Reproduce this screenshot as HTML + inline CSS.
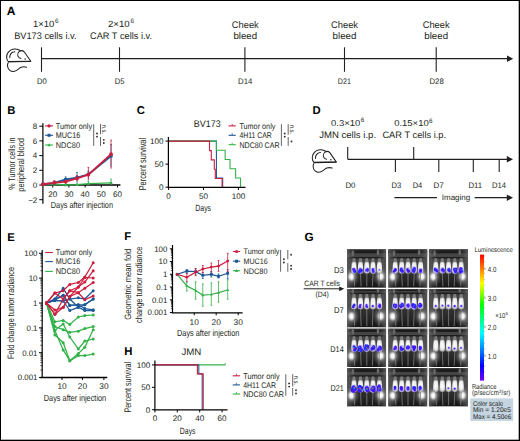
<!DOCTYPE html><html><head><meta charset="utf-8"><style>html,body{margin:0;padding:0;background:#fff;}svg{display:block;font-family:"Liberation Sans",sans-serif;}</style></head><body><svg width="520" height="441" viewBox="0 0 520 441" font-family="Liberation Sans, sans-serif" text-rendering="geometricPrecision" fill="#231f20">
<rect x="0" y="0" width="520" height="441" fill="#fff"/>
<defs>
<radialGradient id="glow" cx="0.5" cy="0.5" r="0.5">
 <stop offset="0" stop-color="#ffffff" stop-opacity="1"/>
 <stop offset="0.2" stop-color="#eeeeee" stop-opacity="0.95"/>
 <stop offset="0.45" stop-color="#9a9a9a" stop-opacity="0.55"/>
 <stop offset="1" stop-color="#505050" stop-opacity="0"/>
</radialGradient>
<radialGradient id="vig" cx="0.5" cy="0.4" r="0.7">
 <stop offset="0" stop-color="#3a3a3a"/>
 <stop offset="0.6" stop-color="#242424"/>
 <stop offset="1" stop-color="#0e0e0e"/>
</radialGradient>
<linearGradient id="topband" x1="0" y1="0" x2="0" y2="1">
 <stop offset="0" stop-color="#1a1a1a"/>
 <stop offset="0.3" stop-color="#464646"/>
 <stop offset="0.75" stop-color="#3a3a3a"/>
 <stop offset="1" stop-color="#2a2a2a" stop-opacity="0"/>
</linearGradient>
<linearGradient id="sidecol" x1="0" y1="0" x2="0" y2="1">
 <stop offset="0" stop-color="#8a8a8a" stop-opacity="0.9"/>
 <stop offset="0.5" stop-color="#5a5a5a" stop-opacity="0.6"/>
 <stop offset="1" stop-color="#404040" stop-opacity="0.2"/>
</linearGradient>
<radialGradient id="mbody" cx="0.5" cy="0.45" r="0.55">
 <stop offset="0" stop-color="#ffffff"/>
 <stop offset="0.65" stop-color="#ebebeb"/>
 <stop offset="1" stop-color="#acacac"/>
</radialGradient>
<linearGradient id="edges" x1="0" y1="0" x2="1" y2="0">
 <stop offset="0" stop-color="#707070" stop-opacity="0.75"/>
 <stop offset="0.16" stop-color="#505050" stop-opacity="0.25"/>
 <stop offset="0.3" stop-color="#404040" stop-opacity="0"/>
 <stop offset="0.7" stop-color="#404040" stop-opacity="0"/>
 <stop offset="0.84" stop-color="#505050" stop-opacity="0.25"/>
 <stop offset="1" stop-color="#707070" stop-opacity="0.75"/>
</linearGradient>
<clipPath id="tclip"><rect x="0" y="0" width="39.2" height="38.6"/></clipPath>
<filter id="bl" x="-0.3" y="-0.3" width="1.6" height="1.6"><feGaussianBlur stdDeviation="0.45"/></filter>
<filter id="bl6" x="-0.3" y="-0.3" width="1.6" height="1.6"><feGaussianBlur stdDeviation="0.6"/></filter>
<filter id="blg" x="-1" y="-1" width="3" height="3"><feGaussianBlur stdDeviation="1.3"/></filter>
<filter id="bl3" x="-0.3" y="-0.3" width="1.6" height="1.6"><feGaussianBlur stdDeviation="0.3"/></filter>
</defs>
<text x="6.70" y="14.90" font-size="12" font-weight="bold" fill="#000">A</text>
<text x="33.00" y="26.80" font-size="9" textLength="21.40" lengthAdjust="spacingAndGlyphs">1×10</text>
<text x="55.00" y="22.80" font-size="6.4">6</text>
<text x="14.20" y="38.50" font-size="9.5" textLength="62.30" lengthAdjust="spacingAndGlyphs">BV173 cells i.v.</text>
<text x="107.90" y="26.80" font-size="9" textLength="21.80" lengthAdjust="spacingAndGlyphs">2×10</text>
<text x="130.60" y="22.80" font-size="6.4">6</text>
<text x="90.00" y="38.50" font-size="9.5" textLength="62.00" lengthAdjust="spacingAndGlyphs">CAR T cells i.v.</text>
<text x="245.30" y="27.80" font-size="9.5" text-anchor="middle" textLength="27.00" lengthAdjust="spacingAndGlyphs">Cheek</text>
<text x="245.30" y="38.80" font-size="9.5" text-anchor="middle" textLength="23.80" lengthAdjust="spacingAndGlyphs">bleed</text>
<text x="344.50" y="27.80" font-size="9.5" text-anchor="middle" textLength="27.00" lengthAdjust="spacingAndGlyphs">Cheek</text>
<text x="344.50" y="38.80" font-size="9.5" text-anchor="middle" textLength="23.80" lengthAdjust="spacingAndGlyphs">bleed</text>
<text x="436.20" y="27.80" font-size="9.5" text-anchor="middle" textLength="27.00" lengthAdjust="spacingAndGlyphs">Cheek</text>
<text x="436.20" y="38.80" font-size="9.5" text-anchor="middle" textLength="23.80" lengthAdjust="spacingAndGlyphs">bleed</text>
<line x1="41.50" y1="58.70" x2="508.00" y2="58.70" stroke="#231f20" stroke-width="1.2"/>
<path d="M507.00,55.50 L513.20,58.70 L507.00,61.90 Z" fill="#231f20"/>
<line x1="41.50" y1="47.30" x2="41.50" y2="71.80" stroke="#231f20" stroke-width="1.1"/>
<line x1="119.50" y1="47.30" x2="119.50" y2="71.80" stroke="#231f20" stroke-width="1.1"/>
<line x1="244.90" y1="47.30" x2="244.90" y2="71.80" stroke="#231f20" stroke-width="1.1"/>
<line x1="344.50" y1="47.30" x2="344.50" y2="71.80" stroke="#231f20" stroke-width="1.1"/>
<line x1="436.20" y1="47.30" x2="436.20" y2="71.80" stroke="#231f20" stroke-width="1.1"/>
<text x="41.85" y="84.40" font-size="8.1" text-anchor="middle" textLength="9.70" lengthAdjust="spacingAndGlyphs">D0</text>
<text x="119.55" y="84.40" font-size="8.1" text-anchor="middle" textLength="9.70" lengthAdjust="spacingAndGlyphs">D5</text>
<text x="245.25" y="84.40" font-size="8.1" text-anchor="middle" textLength="14.30" lengthAdjust="spacingAndGlyphs">D14</text>
<text x="344.35" y="84.40" font-size="8.1" text-anchor="middle" textLength="13.10" lengthAdjust="spacingAndGlyphs">D21</text>
<text x="436.60" y="84.40" font-size="8.1" text-anchor="middle" textLength="14.20" lengthAdjust="spacingAndGlyphs">D28</text>
<g transform="translate(0,0)"><path d="M8.4,61.7 C6.3,59.5 6.0,55.5 8.0,52.6 C9.8,50.1 12.6,48.9 15.4,49.0 C17.3,49.1 18.8,49.6 20.1,50.5 M24.2,51.8 C23.0,50.6 21.0,50.4 19.6,51.3 C17.8,52.5 17.2,55.0 18.3,56.8 C19.0,57.9 20.0,58.3 21.0,58.4 M24.2,51.8 L30.8,61.3 L8.4,61.7 M9.8,57.6 C9.8,55.4 11.0,53.0 13.0,52.1 C13.6,51.8 14.3,51.7 14.9,51.7 M8.1,62.8 C7.0,65.0 7.4,68.5 9.8,70.3 C11.5,71.6 14.2,71.6 16.2,70.6 C18.3,69.5 19.5,67.8 21.2,67.2 C23.0,66.6 25.0,66.8 26.6,67.2" fill="none" stroke="#231f20" stroke-width="1.05" stroke-linecap="round" stroke-linejoin="round"/><path d="M8.4,61.7 L30.8,61.3" stroke="#231f20" stroke-width="1.3"/><circle cx="25.2" cy="58.9" r="0.75" fill="#231f20"/></g>
<text x="312.40" y="114.00" font-size="11.3" font-weight="bold" fill="#000">D</text>
<text x="331.10" y="125.60" font-size="8.6" textLength="29.10" lengthAdjust="spacingAndGlyphs">0.3×10</text>
<text x="360.70" y="122.40" font-size="6.3">6</text>
<text x="319.20" y="138.00" font-size="9.3" textLength="56.90" lengthAdjust="spacingAndGlyphs">JMN cells i.p.</text>
<text x="394.20" y="125.80" font-size="8.6" textLength="34.50" lengthAdjust="spacingAndGlyphs">0.15×10</text>
<text x="429.10" y="122.60" font-size="6.3">6</text>
<text x="382.40" y="137.80" font-size="9.3" textLength="63.70" lengthAdjust="spacingAndGlyphs">CAR T cells i.p.</text>
<g transform="translate(305.6,100.8)"><path d="M8.4,61.7 C6.3,59.5 6.0,55.5 8.0,52.6 C9.8,50.1 12.6,48.9 15.4,49.0 C17.3,49.1 18.8,49.6 20.1,50.5 M24.2,51.8 C23.0,50.6 21.0,50.4 19.6,51.3 C17.8,52.5 17.2,55.0 18.3,56.8 C19.0,57.9 20.0,58.3 21.0,58.4 M24.2,51.8 L30.8,61.3 L8.4,61.7 M9.8,57.6 C9.8,55.4 11.0,53.0 13.0,52.1 C13.6,51.8 14.3,51.7 14.9,51.7 M8.1,62.8 C7.0,65.0 7.4,68.5 9.8,70.3 C11.5,71.6 14.2,71.6 16.2,70.6 C18.3,69.5 19.5,67.8 21.2,67.2 C23.0,66.6 25.0,66.8 26.6,67.2" fill="none" stroke="#231f20" stroke-width="1.05" stroke-linecap="round" stroke-linejoin="round"/><path d="M8.4,61.7 L30.8,61.3" stroke="#231f20" stroke-width="1.3"/><circle cx="25.2" cy="58.9" r="0.75" fill="#231f20"/></g>
<line x1="347.70" y1="159.30" x2="508.00" y2="159.30" stroke="#231f20" stroke-width="1.2"/>
<path d="M506.80,156.10 L513.00,159.30 L506.80,162.50 Z" fill="#231f20"/>
<line x1="347.70" y1="147.00" x2="347.70" y2="159.30" stroke="#231f20" stroke-width="1.1"/>
<line x1="413.70" y1="147.00" x2="413.70" y2="159.30" stroke="#231f20" stroke-width="1.1"/>
<line x1="395.40" y1="159.30" x2="395.40" y2="172.00" stroke="#231f20" stroke-width="1.1"/>
<line x1="438.80" y1="159.30" x2="438.80" y2="172.00" stroke="#231f20" stroke-width="1.1"/>
<line x1="473.30" y1="159.30" x2="473.30" y2="172.00" stroke="#231f20" stroke-width="1.1"/>
<line x1="499.20" y1="159.30" x2="499.20" y2="172.00" stroke="#231f20" stroke-width="1.1"/>
<text x="350.40" y="188.00" font-size="8.0" text-anchor="middle" textLength="10.00" lengthAdjust="spacingAndGlyphs">D0</text>
<text x="396.35" y="188.00" font-size="8.0" text-anchor="middle" textLength="9.70" lengthAdjust="spacingAndGlyphs">D3</text>
<text x="417.50" y="188.00" font-size="8.0" text-anchor="middle" textLength="9.60" lengthAdjust="spacingAndGlyphs">D4</text>
<text x="438.65" y="188.00" font-size="8.0" text-anchor="middle" textLength="10.30" lengthAdjust="spacingAndGlyphs">D7</text>
<text x="475.30" y="188.00" font-size="8.0" text-anchor="middle" textLength="13.80" lengthAdjust="spacingAndGlyphs">D11</text>
<text x="499.05" y="188.00" font-size="8.0" text-anchor="middle" textLength="14.10" lengthAdjust="spacingAndGlyphs">D14</text>
<line x1="394.40" y1="197.70" x2="436.90" y2="197.70" stroke="#231f20" stroke-width="1.3"/>
<text x="441.80" y="200.20" font-size="8" textLength="28.30" lengthAdjust="spacingAndGlyphs">Imaging</text>
<line x1="474.60" y1="197.70" x2="508.00" y2="197.70" stroke="#231f20" stroke-width="1.3"/>
<path d="M506.80,194.50 L513.00,197.70 L506.80,200.90 Z" fill="#231f20"/>
<text x="7.30" y="114.00" font-size="11.3" font-weight="bold" fill="#000">B</text>
<text x="14.60" y="163.60" font-size="9.3" text-anchor="middle" textLength="52.30" lengthAdjust="spacingAndGlyphs" transform="rotate(-90 14.60 163.60)">% Tumor cells in</text>
<text x="24.50" y="164.90" font-size="9.3" text-anchor="middle" textLength="53.80" lengthAdjust="spacingAndGlyphs" transform="rotate(-90 24.50 164.90)">peripheral blood</text>
<line x1="42.90" y1="123.20" x2="42.90" y2="203.80" stroke="#000" stroke-width="1.2"/>
<line x1="42.30" y1="185.00" x2="120.40" y2="185.00" stroke="#000" stroke-width="1.3"/>
<line x1="39.30" y1="126.20" x2="42.90" y2="126.20" stroke="#000" stroke-width="1"/>
<text x="37.30" y="129.00" font-size="8.0" text-anchor="end">8</text>
<line x1="39.30" y1="140.90" x2="42.90" y2="140.90" stroke="#000" stroke-width="1"/>
<text x="37.30" y="143.70" font-size="8.0" text-anchor="end">6</text>
<line x1="39.30" y1="155.60" x2="42.90" y2="155.60" stroke="#000" stroke-width="1"/>
<text x="37.30" y="158.40" font-size="8.0" text-anchor="end">4</text>
<line x1="39.30" y1="170.30" x2="42.90" y2="170.30" stroke="#000" stroke-width="1"/>
<text x="37.30" y="173.10" font-size="8.0" text-anchor="end">2</text>
<line x1="39.30" y1="185.00" x2="42.90" y2="185.00" stroke="#000" stroke-width="1"/>
<text x="37.30" y="187.80" font-size="8.0" text-anchor="end">0</text>
<line x1="39.30" y1="199.70" x2="42.90" y2="199.70" stroke="#000" stroke-width="1"/>
<text x="37.30" y="202.50" font-size="8.0" text-anchor="end">−2</text>
<line x1="52.72" y1="185.00" x2="52.72" y2="187.50" stroke="#000" stroke-width="1"/>
<text x="52.72" y="197.30" font-size="8.1" text-anchor="middle">20</text>
<line x1="68.92" y1="185.00" x2="68.92" y2="187.50" stroke="#000" stroke-width="1"/>
<text x="68.92" y="197.30" font-size="8.1" text-anchor="middle">30</text>
<line x1="85.12" y1="185.00" x2="85.12" y2="187.50" stroke="#000" stroke-width="1"/>
<text x="85.12" y="197.30" font-size="8.1" text-anchor="middle">40</text>
<line x1="101.32" y1="185.00" x2="101.32" y2="187.50" stroke="#000" stroke-width="1"/>
<text x="101.32" y="197.30" font-size="8.1" text-anchor="middle">50</text>
<line x1="117.52" y1="185.00" x2="117.52" y2="187.50" stroke="#000" stroke-width="1"/>
<text x="117.52" y="197.30" font-size="8.1" text-anchor="middle">60</text>
<text x="81.90" y="208.00" font-size="8.9" text-anchor="middle" textLength="62.20" lengthAdjust="spacingAndGlyphs">Days after injection</text>
<line x1="43.00" y1="184.26" x2="43.00" y2="185.00" stroke="#33b24a" stroke-width="0.8"/>
<line x1="42.10" y1="184.26" x2="43.90" y2="184.26" stroke="#33b24a" stroke-width="0.8"/>
<line x1="54.34" y1="182.79" x2="54.34" y2="185.00" stroke="#33b24a" stroke-width="0.8"/>
<line x1="53.44" y1="182.79" x2="55.24" y2="182.79" stroke="#33b24a" stroke-width="0.8"/>
<line x1="65.68" y1="184.26" x2="65.68" y2="185.00" stroke="#33b24a" stroke-width="0.8"/>
<line x1="64.78" y1="184.26" x2="66.58" y2="184.26" stroke="#33b24a" stroke-width="0.8"/>
<line x1="77.02" y1="183.90" x2="77.02" y2="185.00" stroke="#33b24a" stroke-width="0.8"/>
<line x1="76.12" y1="183.90" x2="77.92" y2="183.90" stroke="#33b24a" stroke-width="0.8"/>
<line x1="88.36" y1="181.32" x2="88.36" y2="185.00" stroke="#33b24a" stroke-width="0.8"/>
<line x1="87.46" y1="181.32" x2="89.26" y2="181.32" stroke="#33b24a" stroke-width="0.8"/>
<line x1="111.04" y1="179.12" x2="111.04" y2="185.00" stroke="#33b24a" stroke-width="0.8"/>
<line x1="110.14" y1="179.12" x2="111.94" y2="179.12" stroke="#33b24a" stroke-width="0.8"/>
<line x1="43.00" y1="183.53" x2="43.00" y2="185.00" stroke="#1f5896" stroke-width="0.8"/>
<line x1="42.10" y1="183.53" x2="43.90" y2="183.53" stroke="#1f5896" stroke-width="0.8"/>
<line x1="54.34" y1="181.32" x2="54.34" y2="184.26" stroke="#1f5896" stroke-width="0.8"/>
<line x1="53.44" y1="181.32" x2="55.24" y2="181.32" stroke="#1f5896" stroke-width="0.8"/>
<line x1="65.68" y1="176.91" x2="65.68" y2="182.06" stroke="#1f5896" stroke-width="0.8"/>
<line x1="64.78" y1="176.91" x2="66.58" y2="176.91" stroke="#1f5896" stroke-width="0.8"/>
<line x1="77.02" y1="172.50" x2="77.02" y2="182.79" stroke="#1f5896" stroke-width="0.8"/>
<line x1="76.12" y1="172.50" x2="77.92" y2="172.50" stroke="#1f5896" stroke-width="0.8"/>
<line x1="88.36" y1="171.03" x2="88.36" y2="179.12" stroke="#1f5896" stroke-width="0.8"/>
<line x1="87.46" y1="171.03" x2="89.26" y2="171.03" stroke="#1f5896" stroke-width="0.8"/>
<line x1="111.04" y1="144.57" x2="111.04" y2="167.36" stroke="#1f5896" stroke-width="0.8"/>
<line x1="110.14" y1="144.57" x2="111.94" y2="144.57" stroke="#1f5896" stroke-width="0.8"/>
<line x1="43.00" y1="183.53" x2="43.00" y2="185.00" stroke="#cc1f3f" stroke-width="0.8"/>
<line x1="42.10" y1="183.53" x2="43.90" y2="183.53" stroke="#cc1f3f" stroke-width="0.8"/>
<line x1="54.34" y1="180.59" x2="54.34" y2="184.26" stroke="#cc1f3f" stroke-width="0.8"/>
<line x1="53.44" y1="180.59" x2="55.24" y2="180.59" stroke="#cc1f3f" stroke-width="0.8"/>
<line x1="65.68" y1="179.85" x2="65.68" y2="184.26" stroke="#cc1f3f" stroke-width="0.8"/>
<line x1="64.78" y1="179.85" x2="66.58" y2="179.85" stroke="#cc1f3f" stroke-width="0.8"/>
<line x1="77.02" y1="175.44" x2="77.02" y2="181.32" stroke="#cc1f3f" stroke-width="0.8"/>
<line x1="76.12" y1="175.44" x2="77.92" y2="175.44" stroke="#cc1f3f" stroke-width="0.8"/>
<line x1="88.36" y1="167.36" x2="88.36" y2="180.59" stroke="#cc1f3f" stroke-width="0.8"/>
<line x1="87.46" y1="167.36" x2="89.26" y2="167.36" stroke="#cc1f3f" stroke-width="0.8"/>
<line x1="111.04" y1="140.17" x2="111.04" y2="168.83" stroke="#cc1f3f" stroke-width="0.8"/>
<line x1="110.14" y1="140.17" x2="111.94" y2="140.17" stroke="#cc1f3f" stroke-width="0.8"/>
<polyline points="43.00,184.63 54.34,184.26 65.68,185.00 77.02,184.63 88.36,183.53 111.04,182.79" fill="none" stroke="#33b24a" stroke-width="1.3"/>
<path d="M41.24,185.91 L43.00,182.87 L44.76,185.91 Z" fill="#33b24a"/>
<path d="M52.58,185.54 L54.34,182.50 L56.10,185.54 Z" fill="#33b24a"/>
<path d="M63.92,186.28 L65.68,183.24 L67.44,186.28 Z" fill="#33b24a"/>
<path d="M75.26,185.91 L77.02,182.87 L78.78,185.91 Z" fill="#33b24a"/>
<path d="M86.60,184.81 L88.36,181.77 L90.12,184.81 Z" fill="#33b24a"/>
<path d="M109.28,184.07 L111.04,181.03 L112.80,184.07 Z" fill="#33b24a"/>
<polyline points="43.00,184.26 54.34,182.79 65.68,179.49 77.02,177.65 88.36,174.34 111.04,155.97" fill="none" stroke="#1f5896" stroke-width="1.8"/>
<rect x="41.40" y="182.66" width="3.20" height="3.20" fill="#1f5896"/>
<rect x="52.74" y="181.19" width="3.20" height="3.20" fill="#1f5896"/>
<rect x="64.08" y="177.89" width="3.20" height="3.20" fill="#1f5896"/>
<rect x="75.42" y="176.05" width="3.20" height="3.20" fill="#1f5896"/>
<rect x="86.76" y="172.74" width="3.20" height="3.20" fill="#1f5896"/>
<rect x="109.44" y="154.37" width="3.20" height="3.20" fill="#1f5896"/>
<polyline points="43.00,184.26 54.34,182.79 65.68,181.69 77.02,178.38 88.36,174.71 111.04,154.13" fill="none" stroke="#cc1f3f" stroke-width="1.8"/>
<circle cx="43.00" cy="184.26" r="1.9" fill="#cc1f3f"/>
<circle cx="54.34" cy="182.79" r="1.9" fill="#cc1f3f"/>
<circle cx="65.68" cy="181.69" r="1.9" fill="#cc1f3f"/>
<circle cx="77.02" cy="178.38" r="1.9" fill="#cc1f3f"/>
<circle cx="88.36" cy="174.71" r="1.9" fill="#cc1f3f"/>
<circle cx="111.04" cy="154.13" r="1.9" fill="#cc1f3f"/>
<line x1="45.10" y1="125.90" x2="53.00" y2="125.90" stroke="#cc1f3f" stroke-width="1.1"/>
<circle cx="49.05" cy="125.90" r="1.6" fill="#cc1f3f"/>
<text x="55.80" y="128.70" font-size="8.2" textLength="36.30" lengthAdjust="spacingAndGlyphs">Tumor only</text>
<line x1="45.10" y1="135.30" x2="53.00" y2="135.30" stroke="#1f5896" stroke-width="1.1"/>
<rect x="47.55" y="133.80" width="3.00" height="3.00" fill="#1f5896"/>
<text x="55.80" y="138.10" font-size="8.2" textLength="24.40" lengthAdjust="spacingAndGlyphs">MUC16</text>
<line x1="45.10" y1="145.00" x2="53.00" y2="145.00" stroke="#33b24a" stroke-width="1.1"/>
<path d="M47.35,146.20 L49.05,143.20 L50.75,146.20 Z" fill="#33b24a"/>
<text x="55.80" y="147.80" font-size="8.2" textLength="24.20" lengthAdjust="spacingAndGlyphs">NDC80</text>
<line x1="93.70" y1="124.20" x2="93.70" y2="145.90" stroke="#555" stroke-width="0.9"/>
<circle cx="97.00" cy="133.45" r="0.95" fill="#333"/>
<circle cx="97.00" cy="136.65" r="0.95" fill="#333"/>
<line x1="100.50" y1="124.20" x2="100.50" y2="134.30" stroke="#555" stroke-width="0.9"/>
<line x1="100.50" y1="137.00" x2="100.50" y2="145.90" stroke="#555" stroke-width="0.9"/>
<text x="102.10" y="129.25" font-size="6.5" text-anchor="middle" textLength="9.60" lengthAdjust="spacingAndGlyphs" transform="rotate(90 102.10 129.25)">n.s.</text>
<circle cx="103.80" cy="139.85" r="0.95" fill="#333"/>
<circle cx="103.80" cy="143.05" r="0.95" fill="#333"/>
<text x="136.80" y="114.00" font-size="11.3" font-weight="bold" fill="#000">C</text>
<text x="207.20" y="126.50" font-size="9.6" text-anchor="middle" textLength="26.80" lengthAdjust="spacingAndGlyphs">BV173</text>
<text x="145.60" y="164.10" font-size="10.0" text-anchor="middle" textLength="52.40" lengthAdjust="spacingAndGlyphs" transform="rotate(-90 145.60 164.10)">Percent survival</text>
<polyline points="168.60,141.10 216.41,141.10 216.41,141.10 216.41,141.10 216.41,177.98 222.69,177.98 222.69,187.20" fill="none" stroke="#1f5896" stroke-width="1.1"/>
<polyline points="168.60,141.10 216.41,141.10 216.41,141.10 216.41,141.10 216.41,150.32 225.14,150.32 225.14,159.54 230.02,159.54 230.02,168.76 235.61,168.76 235.61,177.98 240.49,177.98 240.49,187.20" fill="none" stroke="#33b24a" stroke-width="1.1"/>
<polyline points="168.6,141.1 209.5,141.1 209.5,150.6 211.3,150.6 211.3,159.9 214.3,159.9 214.3,169.2 215.3,169.2 215.3,178.5 222.1,178.5 222.1,187.2" fill="none" stroke="#cc1f3f" stroke-width="1.1"/>
<line x1="168.40" y1="137.00" x2="168.40" y2="188.00" stroke="#000" stroke-width="1.2"/>
<line x1="167.80" y1="187.40" x2="245.50" y2="187.40" stroke="#000" stroke-width="1.3"/>
<line x1="165.50" y1="141.10" x2="168.40" y2="141.10" stroke="#000" stroke-width="1"/>
<text x="163.60" y="143.90" font-size="8.1" text-anchor="end">100</text>
<line x1="165.50" y1="164.15" x2="168.40" y2="164.15" stroke="#000" stroke-width="1"/>
<text x="163.60" y="166.95" font-size="8.1" text-anchor="end">50</text>
<line x1="165.50" y1="187.20" x2="168.40" y2="187.20" stroke="#000" stroke-width="1"/>
<text x="163.60" y="190.00" font-size="8.1" text-anchor="end">0</text>
<line x1="168.60" y1="187.40" x2="168.60" y2="190.00" stroke="#000" stroke-width="1"/>
<text x="168.60" y="199.20" font-size="8.1" text-anchor="middle">0</text>
<line x1="203.50" y1="187.40" x2="203.50" y2="190.00" stroke="#000" stroke-width="1"/>
<text x="203.50" y="199.20" font-size="8.1" text-anchor="middle">50</text>
<line x1="238.40" y1="187.40" x2="238.40" y2="190.00" stroke="#000" stroke-width="1"/>
<text x="238.40" y="199.20" font-size="8.1" text-anchor="middle">100</text>
<text x="203.20" y="210.50" font-size="9.0" text-anchor="middle" textLength="15.70" lengthAdjust="spacingAndGlyphs">Days</text>
<line x1="228.60" y1="125.90" x2="235.80" y2="125.90" stroke="#cc1f3f" stroke-width="1.1"/>
<line x1="232.20" y1="123.90" x2="232.20" y2="125.90" stroke="#cc1f3f" stroke-width="0.8"/>
<text x="239.40" y="128.70" font-size="8.2" textLength="36.00" lengthAdjust="spacingAndGlyphs">Tumor only</text>
<line x1="228.60" y1="135.30" x2="235.80" y2="135.30" stroke="#1f5896" stroke-width="1.1"/>
<line x1="232.20" y1="133.30" x2="232.20" y2="135.30" stroke="#1f5896" stroke-width="0.8"/>
<text x="239.40" y="138.10" font-size="8.2" textLength="32.40" lengthAdjust="spacingAndGlyphs">4H11 CAR</text>
<line x1="228.60" y1="144.70" x2="235.80" y2="144.70" stroke="#33b24a" stroke-width="1.1"/>
<line x1="232.20" y1="142.70" x2="232.20" y2="144.70" stroke="#33b24a" stroke-width="0.8"/>
<text x="239.40" y="147.50" font-size="8.2" textLength="40.20" lengthAdjust="spacingAndGlyphs">NDC80 CAR</text>
<line x1="281.40" y1="124.20" x2="281.40" y2="145.90" stroke="#555" stroke-width="0.9"/>
<circle cx="284.70" cy="133.45" r="0.95" fill="#333"/>
<circle cx="284.70" cy="136.65" r="0.95" fill="#333"/>
<line x1="288.20" y1="124.20" x2="288.20" y2="134.70" stroke="#555" stroke-width="0.9"/>
<line x1="288.20" y1="137.00" x2="288.20" y2="145.90" stroke="#555" stroke-width="0.9"/>
<text x="289.80" y="129.45" font-size="6.5" text-anchor="middle" textLength="9.60" lengthAdjust="spacingAndGlyphs" transform="rotate(90 289.80 129.45)">n.s.</text>
<circle cx="291.50" cy="141.45" r="0.95" fill="#333"/>
<text x="7.30" y="240.50" font-size="11.3" font-weight="bold" fill="#000">E</text>
<text x="14.40" y="312.90" font-size="9.3" text-anchor="middle" textLength="92.00" lengthAdjust="spacingAndGlyphs" transform="rotate(-90 14.40 312.90)">Fold change tumor radiance</text>
<line x1="42.20" y1="250.00" x2="42.20" y2="378.00" stroke="#000" stroke-width="1.2"/>
<line x1="40.40" y1="377.50" x2="107.30" y2="377.50" stroke="#000" stroke-width="1.3"/>
<line x1="39.00" y1="377.55" x2="42.20" y2="377.55" stroke="#000" stroke-width="1"/>
<line x1="40.40" y1="370.07" x2="42.20" y2="370.07" stroke="#000" stroke-width="0.7"/>
<line x1="40.40" y1="365.69" x2="42.20" y2="365.69" stroke="#000" stroke-width="0.7"/>
<line x1="40.40" y1="362.59" x2="42.20" y2="362.59" stroke="#000" stroke-width="0.7"/>
<line x1="40.40" y1="360.18" x2="42.20" y2="360.18" stroke="#000" stroke-width="0.7"/>
<line x1="40.40" y1="358.21" x2="42.20" y2="358.21" stroke="#000" stroke-width="0.7"/>
<line x1="40.40" y1="356.55" x2="42.20" y2="356.55" stroke="#000" stroke-width="0.7"/>
<line x1="40.40" y1="355.11" x2="42.20" y2="355.11" stroke="#000" stroke-width="0.7"/>
<line x1="40.40" y1="353.84" x2="42.20" y2="353.84" stroke="#000" stroke-width="0.7"/>
<line x1="39.00" y1="352.70" x2="42.20" y2="352.70" stroke="#000" stroke-width="1"/>
<line x1="40.40" y1="345.22" x2="42.20" y2="345.22" stroke="#000" stroke-width="0.7"/>
<line x1="40.40" y1="340.84" x2="42.20" y2="340.84" stroke="#000" stroke-width="0.7"/>
<line x1="40.40" y1="337.74" x2="42.20" y2="337.74" stroke="#000" stroke-width="0.7"/>
<line x1="40.40" y1="335.33" x2="42.20" y2="335.33" stroke="#000" stroke-width="0.7"/>
<line x1="40.40" y1="333.36" x2="42.20" y2="333.36" stroke="#000" stroke-width="0.7"/>
<line x1="40.40" y1="331.70" x2="42.20" y2="331.70" stroke="#000" stroke-width="0.7"/>
<line x1="40.40" y1="330.26" x2="42.20" y2="330.26" stroke="#000" stroke-width="0.7"/>
<line x1="40.40" y1="328.99" x2="42.20" y2="328.99" stroke="#000" stroke-width="0.7"/>
<line x1="39.00" y1="327.85" x2="42.20" y2="327.85" stroke="#000" stroke-width="1"/>
<line x1="40.40" y1="320.37" x2="42.20" y2="320.37" stroke="#000" stroke-width="0.7"/>
<line x1="40.40" y1="315.99" x2="42.20" y2="315.99" stroke="#000" stroke-width="0.7"/>
<line x1="40.40" y1="312.89" x2="42.20" y2="312.89" stroke="#000" stroke-width="0.7"/>
<line x1="40.40" y1="310.48" x2="42.20" y2="310.48" stroke="#000" stroke-width="0.7"/>
<line x1="40.40" y1="308.51" x2="42.20" y2="308.51" stroke="#000" stroke-width="0.7"/>
<line x1="40.40" y1="306.85" x2="42.20" y2="306.85" stroke="#000" stroke-width="0.7"/>
<line x1="40.40" y1="305.41" x2="42.20" y2="305.41" stroke="#000" stroke-width="0.7"/>
<line x1="40.40" y1="304.14" x2="42.20" y2="304.14" stroke="#000" stroke-width="0.7"/>
<line x1="39.00" y1="303.00" x2="42.20" y2="303.00" stroke="#000" stroke-width="1"/>
<line x1="40.40" y1="295.52" x2="42.20" y2="295.52" stroke="#000" stroke-width="0.7"/>
<line x1="40.40" y1="291.14" x2="42.20" y2="291.14" stroke="#000" stroke-width="0.7"/>
<line x1="40.40" y1="288.04" x2="42.20" y2="288.04" stroke="#000" stroke-width="0.7"/>
<line x1="40.40" y1="285.63" x2="42.20" y2="285.63" stroke="#000" stroke-width="0.7"/>
<line x1="40.40" y1="283.66" x2="42.20" y2="283.66" stroke="#000" stroke-width="0.7"/>
<line x1="40.40" y1="282.00" x2="42.20" y2="282.00" stroke="#000" stroke-width="0.7"/>
<line x1="40.40" y1="280.56" x2="42.20" y2="280.56" stroke="#000" stroke-width="0.7"/>
<line x1="40.40" y1="279.29" x2="42.20" y2="279.29" stroke="#000" stroke-width="0.7"/>
<line x1="39.00" y1="278.15" x2="42.20" y2="278.15" stroke="#000" stroke-width="1"/>
<line x1="40.40" y1="270.67" x2="42.20" y2="270.67" stroke="#000" stroke-width="0.7"/>
<line x1="40.40" y1="266.29" x2="42.20" y2="266.29" stroke="#000" stroke-width="0.7"/>
<line x1="40.40" y1="263.19" x2="42.20" y2="263.19" stroke="#000" stroke-width="0.7"/>
<line x1="40.40" y1="260.78" x2="42.20" y2="260.78" stroke="#000" stroke-width="0.7"/>
<line x1="40.40" y1="258.81" x2="42.20" y2="258.81" stroke="#000" stroke-width="0.7"/>
<line x1="40.40" y1="257.15" x2="42.20" y2="257.15" stroke="#000" stroke-width="0.7"/>
<line x1="40.40" y1="255.71" x2="42.20" y2="255.71" stroke="#000" stroke-width="0.7"/>
<line x1="40.40" y1="254.44" x2="42.20" y2="254.44" stroke="#000" stroke-width="0.7"/>
<line x1="39.00" y1="253.30" x2="42.20" y2="253.30" stroke="#000" stroke-width="1"/>
<text x="37.50" y="256.10" font-size="7.9" text-anchor="end">100</text>
<text x="37.50" y="280.95" font-size="7.9" text-anchor="end">10</text>
<text x="37.50" y="305.80" font-size="7.9" text-anchor="end">1</text>
<text x="37.50" y="330.65" font-size="7.9" text-anchor="end">0.1</text>
<text x="37.50" y="355.50" font-size="7.9" text-anchor="end">0.01</text>
<text x="37.50" y="380.35" font-size="7.9" text-anchor="end">0.001</text>
<line x1="62.00" y1="377.50" x2="62.00" y2="380.00" stroke="#000" stroke-width="1"/>
<text x="62.00" y="388.70" font-size="8.3" text-anchor="middle">10</text>
<line x1="82.40" y1="377.50" x2="82.40" y2="380.00" stroke="#000" stroke-width="1"/>
<text x="82.40" y="388.70" font-size="8.3" text-anchor="middle">20</text>
<line x1="103.90" y1="377.50" x2="103.90" y2="380.00" stroke="#000" stroke-width="1"/>
<text x="103.90" y="388.70" font-size="8.3" text-anchor="middle">30</text>
<text x="75.00" y="401.00" font-size="8.9" text-anchor="middle" textLength="62.40" lengthAdjust="spacingAndGlyphs">Days after injection</text>
<polyline points="46.50,303.00 54.90,321.80 63.20,320.40 69.80,324.50 78.30,317.00 84.80,315.60 93.20,315.00" fill="none" stroke="#33b24a" stroke-width="1.25"/>
<circle cx="46.50" cy="303.00" r="1.5" fill="#33b24a"/>
<circle cx="54.90" cy="321.80" r="1.5" fill="#33b24a"/>
<circle cx="63.20" cy="320.40" r="1.5" fill="#33b24a"/>
<circle cx="69.80" cy="324.50" r="1.5" fill="#33b24a"/>
<circle cx="78.30" cy="317.00" r="1.5" fill="#33b24a"/>
<circle cx="84.80" cy="315.60" r="1.5" fill="#33b24a"/>
<circle cx="93.20" cy="315.00" r="1.5" fill="#33b24a"/>
<polyline points="46.50,303.00 54.90,326.50 63.20,329.70 69.80,332.30 78.30,331.20 84.80,328.60 93.20,326.60" fill="none" stroke="#33b24a" stroke-width="1.25"/>
<circle cx="46.50" cy="303.00" r="1.5" fill="#33b24a"/>
<circle cx="54.90" cy="326.50" r="1.5" fill="#33b24a"/>
<circle cx="63.20" cy="329.70" r="1.5" fill="#33b24a"/>
<circle cx="69.80" cy="332.30" r="1.5" fill="#33b24a"/>
<circle cx="78.30" cy="331.20" r="1.5" fill="#33b24a"/>
<circle cx="84.80" cy="328.60" r="1.5" fill="#33b24a"/>
<circle cx="93.20" cy="326.60" r="1.5" fill="#33b24a"/>
<polyline points="46.50,303.00 54.90,330.20 63.20,324.00 69.80,337.00 78.30,348.90 84.80,341.10 93.20,339.00" fill="none" stroke="#33b24a" stroke-width="1.25"/>
<circle cx="46.50" cy="303.00" r="1.5" fill="#33b24a"/>
<circle cx="54.90" cy="330.20" r="1.5" fill="#33b24a"/>
<circle cx="63.20" cy="324.00" r="1.5" fill="#33b24a"/>
<circle cx="69.80" cy="337.00" r="1.5" fill="#33b24a"/>
<circle cx="78.30" cy="348.90" r="1.5" fill="#33b24a"/>
<circle cx="84.80" cy="341.10" r="1.5" fill="#33b24a"/>
<circle cx="93.20" cy="339.00" r="1.5" fill="#33b24a"/>
<polyline points="46.50,303.00 54.90,334.90 63.20,342.70 69.80,360.80 78.30,353.60 84.80,347.30 93.20,329.70" fill="none" stroke="#33b24a" stroke-width="1.25"/>
<circle cx="46.50" cy="303.00" r="1.5" fill="#33b24a"/>
<circle cx="54.90" cy="334.90" r="1.5" fill="#33b24a"/>
<circle cx="63.20" cy="342.70" r="1.5" fill="#33b24a"/>
<circle cx="69.80" cy="360.80" r="1.5" fill="#33b24a"/>
<circle cx="78.30" cy="353.60" r="1.5" fill="#33b24a"/>
<circle cx="84.80" cy="347.30" r="1.5" fill="#33b24a"/>
<circle cx="93.20" cy="329.70" r="1.5" fill="#33b24a"/>
<polyline points="46.50,303.00 54.90,330.60 63.20,349.90 69.80,360.80 78.30,355.60 84.80,355.60 93.20,354.10" fill="none" stroke="#33b24a" stroke-width="1.25"/>
<circle cx="46.50" cy="303.00" r="1.5" fill="#33b24a"/>
<circle cx="54.90" cy="330.60" r="1.5" fill="#33b24a"/>
<circle cx="63.20" cy="349.90" r="1.5" fill="#33b24a"/>
<circle cx="69.80" cy="360.80" r="1.5" fill="#33b24a"/>
<circle cx="78.30" cy="355.60" r="1.5" fill="#33b24a"/>
<circle cx="84.80" cy="355.60" r="1.5" fill="#33b24a"/>
<circle cx="93.20" cy="354.10" r="1.5" fill="#33b24a"/>
<polyline points="46.50,303.00 54.90,299.00 63.20,288.30 69.80,299.00 78.30,297.80 84.80,299.00 93.20,290.80" fill="none" stroke="#1f5896" stroke-width="1.25"/>
<circle cx="46.50" cy="303.00" r="1.5" fill="#1f5896"/>
<circle cx="54.90" cy="299.00" r="1.5" fill="#1f5896"/>
<circle cx="63.20" cy="288.30" r="1.5" fill="#1f5896"/>
<circle cx="69.80" cy="299.00" r="1.5" fill="#1f5896"/>
<circle cx="78.30" cy="297.80" r="1.5" fill="#1f5896"/>
<circle cx="84.80" cy="299.00" r="1.5" fill="#1f5896"/>
<circle cx="93.20" cy="290.80" r="1.5" fill="#1f5896"/>
<polyline points="46.50,303.00 54.90,300.30 63.20,295.20 69.80,305.40 78.30,304.80 84.80,304.80 93.20,299.00" fill="none" stroke="#1f5896" stroke-width="1.25"/>
<circle cx="46.50" cy="303.00" r="1.5" fill="#1f5896"/>
<circle cx="54.90" cy="300.30" r="1.5" fill="#1f5896"/>
<circle cx="63.20" cy="295.20" r="1.5" fill="#1f5896"/>
<circle cx="69.80" cy="305.40" r="1.5" fill="#1f5896"/>
<circle cx="78.30" cy="304.80" r="1.5" fill="#1f5896"/>
<circle cx="84.80" cy="304.80" r="1.5" fill="#1f5896"/>
<circle cx="93.20" cy="299.00" r="1.5" fill="#1f5896"/>
<polyline points="46.50,303.00 54.90,300.30 63.20,301.00 69.80,310.50 78.30,307.30 84.80,310.50 93.20,310.50" fill="none" stroke="#1f5896" stroke-width="1.25"/>
<circle cx="46.50" cy="303.00" r="1.5" fill="#1f5896"/>
<circle cx="54.90" cy="300.30" r="1.5" fill="#1f5896"/>
<circle cx="63.20" cy="301.00" r="1.5" fill="#1f5896"/>
<circle cx="69.80" cy="310.50" r="1.5" fill="#1f5896"/>
<circle cx="78.30" cy="307.30" r="1.5" fill="#1f5896"/>
<circle cx="84.80" cy="310.50" r="1.5" fill="#1f5896"/>
<circle cx="93.20" cy="310.50" r="1.5" fill="#1f5896"/>
<polyline points="46.50,303.00 54.90,299.00 63.20,295.20 69.80,305.40 78.30,304.80 84.80,308.60 93.20,309.80" fill="none" stroke="#1f5896" stroke-width="1.25"/>
<circle cx="46.50" cy="303.00" r="1.5" fill="#1f5896"/>
<circle cx="54.90" cy="299.00" r="1.5" fill="#1f5896"/>
<circle cx="63.20" cy="295.20" r="1.5" fill="#1f5896"/>
<circle cx="69.80" cy="305.40" r="1.5" fill="#1f5896"/>
<circle cx="78.30" cy="304.80" r="1.5" fill="#1f5896"/>
<circle cx="84.80" cy="308.60" r="1.5" fill="#1f5896"/>
<circle cx="93.20" cy="309.80" r="1.5" fill="#1f5896"/>
<polyline points="46.50,303.00 54.90,300.30 63.20,301.00 69.80,299.00 78.30,307.30 84.80,304.80 93.20,299.00" fill="none" stroke="#1f5896" stroke-width="1.25"/>
<circle cx="46.50" cy="303.00" r="1.5" fill="#1f5896"/>
<circle cx="54.90" cy="300.30" r="1.5" fill="#1f5896"/>
<circle cx="63.20" cy="301.00" r="1.5" fill="#1f5896"/>
<circle cx="69.80" cy="299.00" r="1.5" fill="#1f5896"/>
<circle cx="78.30" cy="307.30" r="1.5" fill="#1f5896"/>
<circle cx="84.80" cy="304.80" r="1.5" fill="#1f5896"/>
<circle cx="93.20" cy="299.00" r="1.5" fill="#1f5896"/>
<polyline points="46.50,303.00 54.90,293.10 63.20,290.80 69.80,284.40 78.30,282.50 84.80,277.00 93.20,262.70" fill="none" stroke="#cc1f3f" stroke-width="1.25"/>
<circle cx="46.50" cy="303.00" r="1.5" fill="#cc1f3f"/>
<circle cx="54.90" cy="293.10" r="1.5" fill="#cc1f3f"/>
<circle cx="63.20" cy="290.80" r="1.5" fill="#cc1f3f"/>
<circle cx="69.80" cy="284.40" r="1.5" fill="#cc1f3f"/>
<circle cx="78.30" cy="282.50" r="1.5" fill="#cc1f3f"/>
<circle cx="84.80" cy="277.00" r="1.5" fill="#cc1f3f"/>
<circle cx="93.20" cy="262.70" r="1.5" fill="#cc1f3f"/>
<polyline points="46.50,303.00 54.90,293.10 63.20,299.00 69.80,290.80 78.30,287.00 84.80,282.00 93.20,270.80" fill="none" stroke="#cc1f3f" stroke-width="1.25"/>
<circle cx="46.50" cy="303.00" r="1.5" fill="#cc1f3f"/>
<circle cx="54.90" cy="293.10" r="1.5" fill="#cc1f3f"/>
<circle cx="63.20" cy="299.00" r="1.5" fill="#cc1f3f"/>
<circle cx="69.80" cy="290.80" r="1.5" fill="#cc1f3f"/>
<circle cx="78.30" cy="287.00" r="1.5" fill="#cc1f3f"/>
<circle cx="84.80" cy="282.00" r="1.5" fill="#cc1f3f"/>
<circle cx="93.20" cy="270.80" r="1.5" fill="#cc1f3f"/>
<polyline points="46.50,303.00 54.90,314.30 63.20,307.30 69.80,296.50 78.30,287.00 84.80,277.50 93.20,278.00" fill="none" stroke="#cc1f3f" stroke-width="1.25"/>
<circle cx="46.50" cy="303.00" r="1.5" fill="#cc1f3f"/>
<circle cx="54.90" cy="314.30" r="1.5" fill="#cc1f3f"/>
<circle cx="63.20" cy="307.30" r="1.5" fill="#cc1f3f"/>
<circle cx="69.80" cy="296.50" r="1.5" fill="#cc1f3f"/>
<circle cx="78.30" cy="287.00" r="1.5" fill="#cc1f3f"/>
<circle cx="84.80" cy="277.50" r="1.5" fill="#cc1f3f"/>
<circle cx="93.20" cy="278.00" r="1.5" fill="#cc1f3f"/>
<polyline points="46.50,303.00 54.90,314.30 63.20,299.00 69.80,290.80 78.30,292.70 84.80,288.30 93.20,282.50" fill="none" stroke="#cc1f3f" stroke-width="1.25"/>
<circle cx="46.50" cy="303.00" r="1.5" fill="#cc1f3f"/>
<circle cx="54.90" cy="314.30" r="1.5" fill="#cc1f3f"/>
<circle cx="63.20" cy="299.00" r="1.5" fill="#cc1f3f"/>
<circle cx="69.80" cy="290.80" r="1.5" fill="#cc1f3f"/>
<circle cx="78.30" cy="292.70" r="1.5" fill="#cc1f3f"/>
<circle cx="84.80" cy="288.30" r="1.5" fill="#cc1f3f"/>
<circle cx="93.20" cy="282.50" r="1.5" fill="#cc1f3f"/>
<polyline points="46.50,303.00 54.90,310.00 63.20,307.30 69.80,296.50 78.30,292.70 84.80,299.70 93.20,295.90" fill="none" stroke="#cc1f3f" stroke-width="1.25"/>
<circle cx="46.50" cy="303.00" r="1.5" fill="#cc1f3f"/>
<circle cx="54.90" cy="310.00" r="1.5" fill="#cc1f3f"/>
<circle cx="63.20" cy="307.30" r="1.5" fill="#cc1f3f"/>
<circle cx="69.80" cy="296.50" r="1.5" fill="#cc1f3f"/>
<circle cx="78.30" cy="292.70" r="1.5" fill="#cc1f3f"/>
<circle cx="84.80" cy="299.70" r="1.5" fill="#cc1f3f"/>
<circle cx="93.20" cy="295.90" r="1.5" fill="#cc1f3f"/>
<line x1="45.20" y1="252.50" x2="52.90" y2="252.50" stroke="#cc1f3f" stroke-width="1.1"/>
<text x="55.80" y="255.30" font-size="8.2" textLength="36.30" lengthAdjust="spacingAndGlyphs">Tumor only</text>
<line x1="45.20" y1="261.60" x2="52.90" y2="261.60" stroke="#1f5896" stroke-width="1.1"/>
<text x="55.80" y="264.40" font-size="8.2" textLength="24.40" lengthAdjust="spacingAndGlyphs">MUC16</text>
<line x1="45.20" y1="271.40" x2="52.90" y2="271.40" stroke="#33b24a" stroke-width="1.1"/>
<text x="55.80" y="274.20" font-size="8.2" textLength="24.20" lengthAdjust="spacingAndGlyphs">NDC80</text>
<text x="124.30" y="240.30" font-size="11.3" font-weight="bold" fill="#000">F</text>
<text x="131.30" y="284.20" font-size="9.2" text-anchor="middle" textLength="71.00" lengthAdjust="spacingAndGlyphs" transform="rotate(-90 131.30 284.20)">Geometric mean fold</text>
<text x="142.20" y="284.80" font-size="9.2" text-anchor="middle" textLength="76.40" lengthAdjust="spacingAndGlyphs" transform="rotate(-90 142.20 284.80)">change tumor radiance</text>
<line x1="172.50" y1="245.00" x2="172.50" y2="313.20" stroke="#000" stroke-width="1.2"/>
<line x1="171.80" y1="312.80" x2="242.60" y2="312.80" stroke="#000" stroke-width="1.3"/>
<line x1="169.90" y1="312.55" x2="172.50" y2="312.55" stroke="#000" stroke-width="1"/>
<line x1="170.90" y1="308.71" x2="172.50" y2="308.71" stroke="#000" stroke-width="0.7"/>
<line x1="170.90" y1="306.47" x2="172.50" y2="306.47" stroke="#000" stroke-width="0.7"/>
<line x1="170.90" y1="304.87" x2="172.50" y2="304.87" stroke="#000" stroke-width="0.7"/>
<line x1="170.90" y1="303.64" x2="172.50" y2="303.64" stroke="#000" stroke-width="0.7"/>
<line x1="170.90" y1="302.63" x2="172.50" y2="302.63" stroke="#000" stroke-width="0.7"/>
<line x1="170.90" y1="301.77" x2="172.50" y2="301.77" stroke="#000" stroke-width="0.7"/>
<line x1="170.90" y1="301.04" x2="172.50" y2="301.04" stroke="#000" stroke-width="0.7"/>
<line x1="170.90" y1="300.38" x2="172.50" y2="300.38" stroke="#000" stroke-width="0.7"/>
<line x1="169.90" y1="299.80" x2="172.50" y2="299.80" stroke="#000" stroke-width="1"/>
<line x1="170.90" y1="295.96" x2="172.50" y2="295.96" stroke="#000" stroke-width="0.7"/>
<line x1="170.90" y1="293.72" x2="172.50" y2="293.72" stroke="#000" stroke-width="0.7"/>
<line x1="170.90" y1="292.12" x2="172.50" y2="292.12" stroke="#000" stroke-width="0.7"/>
<line x1="170.90" y1="290.89" x2="172.50" y2="290.89" stroke="#000" stroke-width="0.7"/>
<line x1="170.90" y1="289.88" x2="172.50" y2="289.88" stroke="#000" stroke-width="0.7"/>
<line x1="170.90" y1="289.02" x2="172.50" y2="289.02" stroke="#000" stroke-width="0.7"/>
<line x1="170.90" y1="288.29" x2="172.50" y2="288.29" stroke="#000" stroke-width="0.7"/>
<line x1="170.90" y1="287.63" x2="172.50" y2="287.63" stroke="#000" stroke-width="0.7"/>
<line x1="169.90" y1="287.05" x2="172.50" y2="287.05" stroke="#000" stroke-width="1"/>
<line x1="170.90" y1="283.21" x2="172.50" y2="283.21" stroke="#000" stroke-width="0.7"/>
<line x1="170.90" y1="280.97" x2="172.50" y2="280.97" stroke="#000" stroke-width="0.7"/>
<line x1="170.90" y1="279.37" x2="172.50" y2="279.37" stroke="#000" stroke-width="0.7"/>
<line x1="170.90" y1="278.14" x2="172.50" y2="278.14" stroke="#000" stroke-width="0.7"/>
<line x1="170.90" y1="277.13" x2="172.50" y2="277.13" stroke="#000" stroke-width="0.7"/>
<line x1="170.90" y1="276.27" x2="172.50" y2="276.27" stroke="#000" stroke-width="0.7"/>
<line x1="170.90" y1="275.54" x2="172.50" y2="275.54" stroke="#000" stroke-width="0.7"/>
<line x1="170.90" y1="274.88" x2="172.50" y2="274.88" stroke="#000" stroke-width="0.7"/>
<line x1="169.90" y1="274.30" x2="172.50" y2="274.30" stroke="#000" stroke-width="1"/>
<line x1="170.90" y1="270.46" x2="172.50" y2="270.46" stroke="#000" stroke-width="0.7"/>
<line x1="170.90" y1="268.22" x2="172.50" y2="268.22" stroke="#000" stroke-width="0.7"/>
<line x1="170.90" y1="266.62" x2="172.50" y2="266.62" stroke="#000" stroke-width="0.7"/>
<line x1="170.90" y1="265.39" x2="172.50" y2="265.39" stroke="#000" stroke-width="0.7"/>
<line x1="170.90" y1="264.38" x2="172.50" y2="264.38" stroke="#000" stroke-width="0.7"/>
<line x1="170.90" y1="263.52" x2="172.50" y2="263.52" stroke="#000" stroke-width="0.7"/>
<line x1="170.90" y1="262.79" x2="172.50" y2="262.79" stroke="#000" stroke-width="0.7"/>
<line x1="170.90" y1="262.13" x2="172.50" y2="262.13" stroke="#000" stroke-width="0.7"/>
<line x1="169.90" y1="261.55" x2="172.50" y2="261.55" stroke="#000" stroke-width="1"/>
<line x1="170.90" y1="257.71" x2="172.50" y2="257.71" stroke="#000" stroke-width="0.7"/>
<line x1="170.90" y1="255.47" x2="172.50" y2="255.47" stroke="#000" stroke-width="0.7"/>
<line x1="170.90" y1="253.87" x2="172.50" y2="253.87" stroke="#000" stroke-width="0.7"/>
<line x1="170.90" y1="252.64" x2="172.50" y2="252.64" stroke="#000" stroke-width="0.7"/>
<line x1="170.90" y1="251.63" x2="172.50" y2="251.63" stroke="#000" stroke-width="0.7"/>
<line x1="170.90" y1="250.77" x2="172.50" y2="250.77" stroke="#000" stroke-width="0.7"/>
<line x1="170.90" y1="250.04" x2="172.50" y2="250.04" stroke="#000" stroke-width="0.7"/>
<line x1="170.90" y1="249.38" x2="172.50" y2="249.38" stroke="#000" stroke-width="0.7"/>
<line x1="169.90" y1="248.80" x2="172.50" y2="248.80" stroke="#000" stroke-width="1"/>
<text x="167.30" y="251.60" font-size="7.9" text-anchor="end">100</text>
<text x="167.30" y="264.35" font-size="7.9" text-anchor="end">10</text>
<text x="167.30" y="277.10" font-size="7.9" text-anchor="end">1</text>
<text x="167.30" y="289.85" font-size="7.9" text-anchor="end">0.1</text>
<text x="167.30" y="302.60" font-size="7.9" text-anchor="end">0.01</text>
<text x="167.30" y="315.35" font-size="7.9" text-anchor="end">0.001</text>
<line x1="194.20" y1="312.80" x2="194.20" y2="315.30" stroke="#000" stroke-width="1"/>
<text x="194.20" y="324.70" font-size="8.3" text-anchor="middle">10</text>
<line x1="216.20" y1="312.80" x2="216.20" y2="315.30" stroke="#000" stroke-width="1"/>
<text x="216.20" y="324.70" font-size="8.3" text-anchor="middle">20</text>
<line x1="238.20" y1="312.80" x2="238.20" y2="315.30" stroke="#000" stroke-width="1"/>
<text x="238.20" y="324.70" font-size="8.3" text-anchor="middle">30</text>
<text x="208.20" y="336.00" font-size="8.9" text-anchor="middle" textLength="62.40" lengthAdjust="spacingAndGlyphs">Days after injection</text>
<line x1="186.80" y1="281.80" x2="186.80" y2="291.00" stroke="#33b24a" stroke-width="0.8"/>
<line x1="185.90" y1="281.80" x2="187.70" y2="281.80" stroke="#33b24a" stroke-width="0.8"/>
<line x1="185.90" y1="291.00" x2="187.70" y2="291.00" stroke="#33b24a" stroke-width="0.8"/>
<line x1="195.60" y1="281.80" x2="195.60" y2="299.20" stroke="#33b24a" stroke-width="0.8"/>
<line x1="194.70" y1="281.80" x2="196.50" y2="281.80" stroke="#33b24a" stroke-width="0.8"/>
<line x1="194.70" y1="299.20" x2="196.50" y2="299.20" stroke="#33b24a" stroke-width="0.8"/>
<line x1="202.80" y1="283.90" x2="202.80" y2="306.30" stroke="#33b24a" stroke-width="0.8"/>
<line x1="201.90" y1="283.90" x2="203.70" y2="283.90" stroke="#33b24a" stroke-width="0.8"/>
<line x1="201.90" y1="306.30" x2="203.70" y2="306.30" stroke="#33b24a" stroke-width="0.8"/>
<line x1="211.30" y1="282.90" x2="211.30" y2="305.30" stroke="#33b24a" stroke-width="0.8"/>
<line x1="210.40" y1="282.90" x2="212.20" y2="282.90" stroke="#33b24a" stroke-width="0.8"/>
<line x1="210.40" y1="305.30" x2="212.20" y2="305.30" stroke="#33b24a" stroke-width="0.8"/>
<line x1="218.50" y1="281.80" x2="218.50" y2="302.20" stroke="#33b24a" stroke-width="0.8"/>
<line x1="217.60" y1="281.80" x2="219.40" y2="281.80" stroke="#33b24a" stroke-width="0.8"/>
<line x1="217.60" y1="302.20" x2="219.40" y2="302.20" stroke="#33b24a" stroke-width="0.8"/>
<line x1="227.70" y1="279.80" x2="227.70" y2="299.20" stroke="#33b24a" stroke-width="0.8"/>
<line x1="226.80" y1="279.80" x2="228.60" y2="279.80" stroke="#33b24a" stroke-width="0.8"/>
<line x1="226.80" y1="299.20" x2="228.60" y2="299.20" stroke="#33b24a" stroke-width="0.8"/>
<polyline points="177.20,274.30 186.80,285.90 195.60,290.40 202.80,295.10 211.30,294.50 218.50,292.70 227.70,290.00" fill="none" stroke="#33b24a" stroke-width="1.2"/>
<path d="M175.66,275.42 L177.20,272.76 L178.74,275.42 Z" fill="#33b24a"/>
<path d="M185.26,287.02 L186.80,284.36 L188.34,287.02 Z" fill="#33b24a"/>
<path d="M194.06,291.52 L195.60,288.86 L197.14,291.52 Z" fill="#33b24a"/>
<path d="M201.26,296.22 L202.80,293.56 L204.34,296.22 Z" fill="#33b24a"/>
<path d="M209.76,295.62 L211.30,292.96 L212.84,295.62 Z" fill="#33b24a"/>
<path d="M216.96,293.82 L218.50,291.16 L220.04,293.82 Z" fill="#33b24a"/>
<path d="M226.16,291.12 L227.70,288.46 L229.24,291.12 Z" fill="#33b24a"/>
<line x1="186.80" y1="269.50" x2="186.80" y2="273.50" stroke="#1f5896" stroke-width="0.8"/>
<line x1="185.90" y1="269.50" x2="187.70" y2="269.50" stroke="#1f5896" stroke-width="0.8"/>
<line x1="185.90" y1="273.50" x2="187.70" y2="273.50" stroke="#1f5896" stroke-width="0.8"/>
<line x1="195.60" y1="268.50" x2="195.60" y2="275.00" stroke="#1f5896" stroke-width="0.8"/>
<line x1="194.70" y1="268.50" x2="196.50" y2="268.50" stroke="#1f5896" stroke-width="0.8"/>
<line x1="194.70" y1="275.00" x2="196.50" y2="275.00" stroke="#1f5896" stroke-width="0.8"/>
<line x1="202.80" y1="272.50" x2="202.80" y2="278.50" stroke="#1f5896" stroke-width="0.8"/>
<line x1="201.90" y1="272.50" x2="203.70" y2="272.50" stroke="#1f5896" stroke-width="0.8"/>
<line x1="201.90" y1="278.50" x2="203.70" y2="278.50" stroke="#1f5896" stroke-width="0.8"/>
<line x1="211.30" y1="271.50" x2="211.30" y2="277.00" stroke="#1f5896" stroke-width="0.8"/>
<line x1="210.40" y1="271.50" x2="212.20" y2="271.50" stroke="#1f5896" stroke-width="0.8"/>
<line x1="210.40" y1="277.00" x2="212.20" y2="277.00" stroke="#1f5896" stroke-width="0.8"/>
<line x1="218.50" y1="274.00" x2="218.50" y2="278.00" stroke="#1f5896" stroke-width="0.8"/>
<line x1="217.60" y1="274.00" x2="219.40" y2="274.00" stroke="#1f5896" stroke-width="0.8"/>
<line x1="217.60" y1="278.00" x2="219.40" y2="278.00" stroke="#1f5896" stroke-width="0.8"/>
<line x1="227.70" y1="269.60" x2="227.70" y2="278.80" stroke="#1f5896" stroke-width="0.8"/>
<line x1="226.80" y1="269.60" x2="228.60" y2="269.60" stroke="#1f5896" stroke-width="0.8"/>
<line x1="226.80" y1="278.80" x2="228.60" y2="278.80" stroke="#1f5896" stroke-width="0.8"/>
<polyline points="177.20,274.30 186.80,271.20 195.60,271.60 202.80,275.30 211.30,274.30 218.50,276.30 227.70,273.30" fill="none" stroke="#1f5896" stroke-width="1.2"/>
<rect x="175.80" y="272.90" width="2.80" height="2.80" fill="#1f5896"/>
<rect x="185.40" y="269.80" width="2.80" height="2.80" fill="#1f5896"/>
<rect x="194.20" y="270.20" width="2.80" height="2.80" fill="#1f5896"/>
<rect x="201.40" y="273.90" width="2.80" height="2.80" fill="#1f5896"/>
<rect x="209.90" y="272.90" width="2.80" height="2.80" fill="#1f5896"/>
<rect x="217.10" y="274.90" width="2.80" height="2.80" fill="#1f5896"/>
<rect x="226.30" y="271.90" width="2.80" height="2.80" fill="#1f5896"/>
<line x1="186.80" y1="273.70" x2="186.80" y2="281.80" stroke="#cc1f3f" stroke-width="0.8"/>
<line x1="185.90" y1="273.70" x2="187.70" y2="273.70" stroke="#cc1f3f" stroke-width="0.8"/>
<line x1="185.90" y1="281.80" x2="187.70" y2="281.80" stroke="#cc1f3f" stroke-width="0.8"/>
<line x1="195.60" y1="268.60" x2="195.60" y2="275.70" stroke="#cc1f3f" stroke-width="0.8"/>
<line x1="194.70" y1="268.60" x2="196.50" y2="268.60" stroke="#cc1f3f" stroke-width="0.8"/>
<line x1="194.70" y1="275.70" x2="196.50" y2="275.70" stroke="#cc1f3f" stroke-width="0.8"/>
<line x1="202.80" y1="265.50" x2="202.80" y2="272.70" stroke="#cc1f3f" stroke-width="0.8"/>
<line x1="201.90" y1="265.50" x2="203.70" y2="265.50" stroke="#cc1f3f" stroke-width="0.8"/>
<line x1="201.90" y1="272.70" x2="203.70" y2="272.70" stroke="#cc1f3f" stroke-width="0.8"/>
<line x1="211.30" y1="263.00" x2="211.30" y2="272.00" stroke="#cc1f3f" stroke-width="0.8"/>
<line x1="210.40" y1="263.00" x2="212.20" y2="263.00" stroke="#cc1f3f" stroke-width="0.8"/>
<line x1="210.40" y1="272.00" x2="212.20" y2="272.00" stroke="#cc1f3f" stroke-width="0.8"/>
<line x1="218.50" y1="260.40" x2="218.50" y2="271.60" stroke="#cc1f3f" stroke-width="0.8"/>
<line x1="217.60" y1="260.40" x2="219.40" y2="260.40" stroke="#cc1f3f" stroke-width="0.8"/>
<line x1="217.60" y1="271.60" x2="219.40" y2="271.60" stroke="#cc1f3f" stroke-width="0.8"/>
<line x1="227.70" y1="253.30" x2="227.70" y2="271.60" stroke="#cc1f3f" stroke-width="0.8"/>
<line x1="226.80" y1="253.30" x2="228.60" y2="253.30" stroke="#cc1f3f" stroke-width="0.8"/>
<line x1="226.80" y1="271.60" x2="228.60" y2="271.60" stroke="#cc1f3f" stroke-width="0.8"/>
<polyline points="177.20,274.30 186.80,277.30 195.60,272.20 202.80,269.00 211.30,267.10 218.50,266.10 227.70,261.00" fill="none" stroke="#cc1f3f" stroke-width="1.2"/>
<circle cx="177.20" cy="274.30" r="1.4" fill="#cc1f3f"/>
<circle cx="186.80" cy="277.30" r="1.4" fill="#cc1f3f"/>
<circle cx="195.60" cy="272.20" r="1.4" fill="#cc1f3f"/>
<circle cx="202.80" cy="269.00" r="1.4" fill="#cc1f3f"/>
<circle cx="211.30" cy="267.10" r="1.4" fill="#cc1f3f"/>
<circle cx="218.50" cy="266.10" r="1.4" fill="#cc1f3f"/>
<circle cx="227.70" cy="261.00" r="1.4" fill="#cc1f3f"/>
<line x1="232.90" y1="251.50" x2="240.20" y2="251.50" stroke="#cc1f3f" stroke-width="1.1"/>
<circle cx="236.55" cy="251.50" r="1.6" fill="#cc1f3f"/>
<text x="243.50" y="254.30" font-size="8.0" textLength="36.00" lengthAdjust="spacingAndGlyphs">Tumor only</text>
<line x1="232.90" y1="261.20" x2="240.20" y2="261.20" stroke="#1f5896" stroke-width="1.1"/>
<rect x="235.05" y="259.70" width="3.00" height="3.00" fill="#1f5896"/>
<text x="243.50" y="264.00" font-size="8.0" textLength="24.20" lengthAdjust="spacingAndGlyphs">MUC16</text>
<line x1="232.90" y1="270.70" x2="240.20" y2="270.70" stroke="#33b24a" stroke-width="1.1"/>
<path d="M234.85,271.90 L236.55,268.90 L238.25,271.90 Z" fill="#33b24a"/>
<text x="243.50" y="273.50" font-size="8.0" textLength="24.00" lengthAdjust="spacingAndGlyphs">NDC80</text>
<line x1="280.60" y1="250.00" x2="280.60" y2="271.70" stroke="#555" stroke-width="0.9"/>
<circle cx="283.90" cy="259.25" r="0.95" fill="#333"/>
<circle cx="283.90" cy="262.45" r="0.95" fill="#333"/>
<line x1="287.80" y1="250.00" x2="287.80" y2="259.40" stroke="#555" stroke-width="0.9"/>
<line x1="287.80" y1="263.00" x2="287.80" y2="271.70" stroke="#555" stroke-width="0.9"/>
<circle cx="291.10" cy="254.70" r="0.95" fill="#333"/>
<circle cx="291.10" cy="265.75" r="0.95" fill="#333"/>
<circle cx="291.10" cy="268.95" r="0.95" fill="#333"/>
<text x="124.30" y="354.60" font-size="11.3" font-weight="bold" fill="#000">H</text>
<text x="191.40" y="354.60" font-size="9.6" text-anchor="middle" textLength="19.90" lengthAdjust="spacingAndGlyphs">JMN</text>
<text x="130.90" y="387.30" font-size="9.6" text-anchor="middle" textLength="50.60" lengthAdjust="spacingAndGlyphs" transform="rotate(-90 130.90 387.30)">Percent survival</text>
<polyline points="154.90,364.90 225.30,364.90" fill="none" stroke="#33b24a" stroke-width="1.1"/>
<line x1="225.30" y1="363.10" x2="225.30" y2="364.90" stroke="#33b24a" stroke-width="0.8"/>
<polyline points="154.90,364.90 198.80,364.90 198.80,373.86 202.20,373.86 202.20,409.70" fill="none" stroke="#1f5896" stroke-width="1.1"/>
<polyline points="154.90,364.90 197.40,364.90 197.40,373.86 203.20,373.86 203.20,409.70" fill="none" stroke="#cc1f3f" stroke-width="1.1"/>
<line x1="154.90" y1="360.60" x2="154.90" y2="410.30" stroke="#000" stroke-width="1.2"/>
<line x1="154.30" y1="409.90" x2="227.60" y2="409.90" stroke="#000" stroke-width="1.3"/>
<line x1="152.00" y1="364.90" x2="154.90" y2="364.90" stroke="#000" stroke-width="1"/>
<text x="150.20" y="367.70" font-size="8.1" text-anchor="end">100</text>
<line x1="152.00" y1="387.30" x2="154.90" y2="387.30" stroke="#000" stroke-width="1"/>
<text x="150.20" y="390.10" font-size="8.1" text-anchor="end">50</text>
<line x1="152.00" y1="409.70" x2="154.90" y2="409.70" stroke="#000" stroke-width="1"/>
<text x="150.20" y="412.50" font-size="8.1" text-anchor="end">0</text>
<line x1="154.90" y1="409.90" x2="154.90" y2="412.40" stroke="#000" stroke-width="1"/>
<text x="154.90" y="421.20" font-size="8.1" text-anchor="middle">0</text>
<line x1="177.30" y1="409.90" x2="177.30" y2="412.40" stroke="#000" stroke-width="1"/>
<text x="177.30" y="421.20" font-size="8.1" text-anchor="middle">20</text>
<line x1="199.70" y1="409.90" x2="199.70" y2="412.40" stroke="#000" stroke-width="1"/>
<text x="199.70" y="421.20" font-size="8.1" text-anchor="middle">40</text>
<line x1="222.10" y1="409.90" x2="222.10" y2="412.40" stroke="#000" stroke-width="1"/>
<text x="222.10" y="421.20" font-size="8.1" text-anchor="middle">60</text>
<text x="187.70" y="433.60" font-size="9.0" text-anchor="middle" textLength="15.70" lengthAdjust="spacingAndGlyphs">Days</text>
<line x1="232.70" y1="375.80" x2="240.10" y2="375.80" stroke="#cc1f3f" stroke-width="1.1"/>
<line x1="236.40" y1="373.80" x2="236.40" y2="375.80" stroke="#cc1f3f" stroke-width="0.8"/>
<text x="243.20" y="378.60" font-size="8.2" textLength="36.40" lengthAdjust="spacingAndGlyphs">Tumor only</text>
<line x1="232.70" y1="384.90" x2="240.10" y2="384.90" stroke="#1f5896" stroke-width="1.1"/>
<line x1="236.40" y1="382.90" x2="236.40" y2="384.90" stroke="#1f5896" stroke-width="0.8"/>
<text x="243.20" y="387.70" font-size="8.2" textLength="32.80" lengthAdjust="spacingAndGlyphs">4H11 CAR</text>
<line x1="232.70" y1="394.00" x2="240.10" y2="394.00" stroke="#33b24a" stroke-width="1.1"/>
<line x1="236.40" y1="392.00" x2="236.40" y2="394.00" stroke="#33b24a" stroke-width="0.8"/>
<text x="243.20" y="396.80" font-size="8.2" textLength="40.70" lengthAdjust="spacingAndGlyphs">NDC80 CAR</text>
<line x1="285.80" y1="374.20" x2="285.80" y2="395.80" stroke="#555" stroke-width="0.9"/>
<circle cx="289.10" cy="383.40" r="0.95" fill="#333"/>
<circle cx="289.10" cy="386.60" r="0.95" fill="#333"/>
<line x1="292.70" y1="374.20" x2="292.70" y2="386.50" stroke="#555" stroke-width="0.9"/>
<line x1="292.70" y1="388.00" x2="292.70" y2="395.80" stroke="#555" stroke-width="0.9"/>
<text x="294.30" y="380.35" font-size="6.5" text-anchor="middle" textLength="9.60" lengthAdjust="spacingAndGlyphs" transform="rotate(90 294.30 380.35)">n.s.</text>
<circle cx="296.00" cy="390.30" r="0.95" fill="#333"/>
<circle cx="296.00" cy="393.50" r="0.95" fill="#333"/>
<text x="304.60" y="240.70" font-size="11.8" font-weight="bold" fill="#000">G</text>
<g transform="translate(347.00,249.20)"><g clip-path="url(#tclip)"><rect x="0" y="0" width="39.2" height="38.6" fill="url(#vig)"/><g filter="url(#bl6)"><rect x="0" y="0" width="39.2" height="1.2" fill="#383838"/><rect x="0" y="1.2" width="39.2" height="3.00" fill="#1c1c1c"/><rect x="0" y="4.20" width="39.2" height="3.60" fill="#444444"/><rect x="1.5" y="7.80" width="36" height="1.2" fill="#1e1e1e"/><rect x="2" y="9.50" width="35" height="15.00" fill="#4a4a4a" opacity="0.7"/><ellipse cx="5.8" cy="4.00" rx="1.3" ry="3.0" fill="#707070"/><ellipse cx="31.0" cy="3.20" rx="1.3" ry="2.8" fill="#707070"/></g><rect x="0" y="0" width="39.2" height="38.6" fill="url(#edges)"/><ellipse cx="4.6" cy="27.4" rx="8.5" ry="10.5" fill="url(#glow)"/><ellipse cx="33.8" cy="27.2" rx="8.5" ry="10.5" fill="url(#glow)"/><ellipse cx="4.6" cy="27.6" rx="2.6" ry="3.4" fill="#ffffff" opacity="0.6" filter="url(#blg)"/><ellipse cx="33.8" cy="27.4" rx="2.6" ry="3.4" fill="#ffffff" opacity="0.6" filter="url(#blg)"/><g stroke="#808080" stroke-width="0.8" filter="url(#bl3)"><line x1="7.00" y1="24.00" x2="7.60" y2="37.2"/><line x1="13.50" y1="24.00" x2="14.10" y2="37.2"/><line x1="19.80" y1="24.00" x2="19.80" y2="37.2"/><line x1="26.00" y1="24.00" x2="25.40" y2="37.2"/><line x1="32.40" y1="24.00" x2="31.80" y2="37.2"/></g><g filter="url(#bl)"><path d="M5.80,9.00 L8.20,9.00 L9.00,13.20 L5.00,13.20 Z" fill="#7c7c7c"/><path d="M4.70,13.80 C4.70,12.50 9.30,12.50 9.30,13.80 L9.90,22.00 C10.00,25.20 4.00,25.20 4.10,22.00 Z" fill="url(#mbody)"/><path d="M12.30,9.00 L14.70,9.00 L15.50,13.20 L11.50,13.20 Z" fill="#7c7c7c"/><path d="M11.20,13.80 C11.20,12.50 15.80,12.50 15.80,13.80 L16.40,22.00 C16.50,25.20 10.50,25.20 10.60,22.00 Z" fill="url(#mbody)"/><path d="M18.60,9.00 L21.00,9.00 L21.80,13.20 L17.80,13.20 Z" fill="#7c7c7c"/><path d="M17.50,13.80 C17.50,12.50 22.10,12.50 22.10,13.80 L22.70,22.00 C22.80,25.20 16.80,25.20 16.90,22.00 Z" fill="url(#mbody)"/><path d="M24.80,9.00 L27.20,9.00 L28.00,13.20 L24.00,13.20 Z" fill="#7c7c7c"/><path d="M23.70,13.80 C23.70,12.50 28.30,12.50 28.30,13.80 L28.90,22.00 C29.00,25.20 23.00,25.20 23.10,22.00 Z" fill="url(#mbody)"/><path d="M31.20,9.00 L33.60,9.00 L34.40,13.20 L30.40,13.20 Z" fill="#7c7c7c"/><path d="M30.10,13.80 C30.10,12.50 34.70,12.50 34.70,13.80 L35.30,22.00 C35.40,25.20 29.40,25.20 29.50,22.00 Z" fill="url(#mbody)"/></g><g filter="url(#bl3)"><ellipse cx="7.21" cy="21.21" rx="2.30" ry="2.90" fill="#b4acff" opacity="0.85"/><ellipse cx="7.05" cy="20.57" rx="1.13" ry="1.48" fill="#4814ee"/><ellipse cx="8.05" cy="22.08" rx="1.33" ry="1.75" fill="#3028ff"/><ellipse cx="7.37" cy="22.29" rx="1.12" ry="1.47" fill="#3028ff"/><ellipse cx="6.48" cy="20.13" rx="1.25" ry="1.65" fill="#5522ff"/><ellipse cx="13.39" cy="21.18" rx="2.44" ry="3.09" fill="#b4acff" opacity="0.85"/><ellipse cx="14.25" cy="21.71" rx="1.19" ry="1.56" fill="#3a18ff"/><ellipse cx="13.07" cy="20.66" rx="1.27" ry="1.67" fill="#5522ff"/><ellipse cx="14.40" cy="21.12" rx="1.38" ry="1.81" fill="#3028ff"/><ellipse cx="12.44" cy="22.38" rx="1.40" ry="1.85" fill="#3a18ff"/><ellipse cx="19.93" cy="20.92" rx="2.30" ry="2.90" fill="#b4acff" opacity="0.85"/><ellipse cx="20.59" cy="21.36" rx="0.90" ry="1.18" fill="#4814ee"/><ellipse cx="20.59" cy="20.48" rx="1.22" ry="1.61" fill="#3a18ff"/><ellipse cx="19.31" cy="21.10" rx="1.00" ry="1.32" fill="#5522ff"/><ellipse cx="20.54" cy="20.78" rx="0.93" ry="1.22" fill="#3028ff"/><ellipse cx="26.23" cy="21.40" rx="2.44" ry="3.09" fill="#b4acff" opacity="0.85"/><ellipse cx="26.20" cy="20.83" rx="1.10" ry="1.45" fill="#3a18ff"/><ellipse cx="26.33" cy="22.29" rx="1.22" ry="1.61" fill="#3028ff"/><ellipse cx="26.11" cy="21.67" rx="1.15" ry="1.51" fill="#5522ff"/><ellipse cx="25.77" cy="20.51" rx="1.05" ry="1.38" fill="#3028ff"/><ellipse cx="32.39" cy="20.67" rx="1.23" ry="1.23" fill="#b0a8ff" opacity="0.8"/><ellipse cx="32.39" cy="20.67" rx="0.73" ry="0.73" fill="#4420ff"/></g></g></g>
<g transform="translate(388.20,249.20)"><g clip-path="url(#tclip)"><rect x="0" y="0" width="39.2" height="38.6" fill="url(#vig)"/><g filter="url(#bl6)"><rect x="0" y="0" width="39.2" height="1.2" fill="#383838"/><rect x="0" y="1.2" width="39.2" height="3.00" fill="#1c1c1c"/><rect x="0" y="4.20" width="39.2" height="3.60" fill="#444444"/><rect x="1.5" y="7.80" width="36" height="1.2" fill="#1e1e1e"/><rect x="2" y="9.50" width="35" height="15.00" fill="#4a4a4a" opacity="0.7"/><ellipse cx="5.8" cy="4.00" rx="1.3" ry="3.0" fill="#707070"/><ellipse cx="31.0" cy="3.20" rx="1.3" ry="2.8" fill="#707070"/></g><rect x="0" y="0" width="39.2" height="38.6" fill="url(#edges)"/><ellipse cx="4.6" cy="27.4" rx="8.5" ry="10.5" fill="url(#glow)"/><ellipse cx="33.8" cy="27.2" rx="8.5" ry="10.5" fill="url(#glow)"/><ellipse cx="4.6" cy="27.6" rx="2.6" ry="3.4" fill="#ffffff" opacity="0.6" filter="url(#blg)"/><ellipse cx="33.8" cy="27.4" rx="2.6" ry="3.4" fill="#ffffff" opacity="0.6" filter="url(#blg)"/><g stroke="#808080" stroke-width="0.8" filter="url(#bl3)"><line x1="7.00" y1="24.00" x2="7.60" y2="37.2"/><line x1="13.50" y1="24.00" x2="14.10" y2="37.2"/><line x1="19.80" y1="24.00" x2="19.80" y2="37.2"/><line x1="26.00" y1="24.00" x2="25.40" y2="37.2"/><line x1="32.40" y1="24.00" x2="31.80" y2="37.2"/></g><g filter="url(#bl)"><path d="M5.80,9.00 L8.20,9.00 L9.00,13.20 L5.00,13.20 Z" fill="#7c7c7c"/><path d="M4.70,13.80 C4.70,12.50 9.30,12.50 9.30,13.80 L9.90,22.00 C10.00,25.20 4.00,25.20 4.10,22.00 Z" fill="url(#mbody)"/><path d="M12.30,9.00 L14.70,9.00 L15.50,13.20 L11.50,13.20 Z" fill="#7c7c7c"/><path d="M11.20,13.80 C11.20,12.50 15.80,12.50 15.80,13.80 L16.40,22.00 C16.50,25.20 10.50,25.20 10.60,22.00 Z" fill="url(#mbody)"/><path d="M18.60,9.00 L21.00,9.00 L21.80,13.20 L17.80,13.20 Z" fill="#7c7c7c"/><path d="M17.50,13.80 C17.50,12.50 22.10,12.50 22.10,13.80 L22.70,22.00 C22.80,25.20 16.80,25.20 16.90,22.00 Z" fill="url(#mbody)"/><path d="M24.80,9.00 L27.20,9.00 L28.00,13.20 L24.00,13.20 Z" fill="#7c7c7c"/><path d="M23.70,13.80 C23.70,12.50 28.30,12.50 28.30,13.80 L28.90,22.00 C29.00,25.20 23.00,25.20 23.10,22.00 Z" fill="url(#mbody)"/><path d="M31.20,9.00 L33.60,9.00 L34.40,13.20 L30.40,13.20 Z" fill="#7c7c7c"/><path d="M30.10,13.80 C30.10,12.50 34.70,12.50 34.70,13.80 L35.30,22.00 C35.40,25.20 29.40,25.20 29.50,22.00 Z" fill="url(#mbody)"/></g><g filter="url(#bl3)"><ellipse cx="6.78" cy="21.28" rx="2.30" ry="2.90" fill="#b4acff" opacity="0.85"/><ellipse cx="7.31" cy="20.63" rx="1.12" ry="1.47" fill="#4814ee"/><ellipse cx="6.72" cy="20.96" rx="0.99" ry="1.30" fill="#4814ee"/><ellipse cx="5.83" cy="22.17" rx="1.09" ry="1.43" fill="#3a18ff"/><ellipse cx="7.18" cy="20.66" rx="1.26" ry="1.65" fill="#3a18ff"/><ellipse cx="13.74" cy="20.62" rx="2.44" ry="3.09" fill="#b4acff" opacity="0.85"/><ellipse cx="12.71" cy="20.74" rx="1.41" ry="1.86" fill="#4814ee"/><ellipse cx="14.14" cy="21.96" rx="1.31" ry="1.72" fill="#5522ff"/><ellipse cx="14.31" cy="21.88" rx="1.23" ry="1.62" fill="#3028ff"/><ellipse cx="13.16" cy="19.82" rx="1.18" ry="1.56" fill="#3028ff"/><ellipse cx="20.06" cy="20.93" rx="2.30" ry="2.90" fill="#b4acff" opacity="0.85"/><ellipse cx="20.90" cy="22.05" rx="0.94" ry="1.23" fill="#3028ff"/><ellipse cx="19.29" cy="20.49" rx="1.22" ry="1.60" fill="#4814ee"/><ellipse cx="20.07" cy="22.02" rx="0.98" ry="1.29" fill="#3028ff"/><ellipse cx="20.23" cy="21.94" rx="1.28" ry="1.67" fill="#4814ee"/><ellipse cx="26.05" cy="20.63" rx="2.72" ry="3.47" fill="#b4acff" opacity="0.85"/><ellipse cx="25.42" cy="21.59" rx="1.32" ry="1.74" fill="#5522ff"/><ellipse cx="25.73" cy="21.87" rx="1.52" ry="2.01" fill="#3028ff"/><ellipse cx="25.04" cy="21.16" rx="1.15" ry="1.52" fill="#5522ff"/><ellipse cx="26.10" cy="20.28" rx="1.36" ry="1.80" fill="#3a18ff"/><ellipse cx="25.98" cy="20.01" rx="1.56" ry="2.06" fill="#4814ee"/><ellipse cx="26.42" cy="19.55" rx="1.22" ry="1.61" fill="#3a18ff"/><ellipse cx="26.70" cy="20.75" rx="0.55" ry="0.5" fill="#10a0f0"/><ellipse cx="26.92" cy="19.82" rx="0.55" ry="0.5" fill="#10a0f0"/><ellipse cx="32.41" cy="21.36" rx="2.30" ry="2.90" fill="#b4acff" opacity="0.85"/><ellipse cx="32.57" cy="21.25" rx="1.02" ry="1.33" fill="#3a18ff"/><ellipse cx="32.17" cy="22.31" rx="1.32" ry="1.74" fill="#5522ff"/><ellipse cx="32.45" cy="21.52" rx="1.09" ry="1.43" fill="#3a18ff"/><ellipse cx="32.37" cy="21.00" rx="1.14" ry="1.50" fill="#4814ee"/></g></g></g>
<g transform="translate(428.80,249.20)"><g clip-path="url(#tclip)"><rect x="0" y="0" width="39.2" height="38.6" fill="url(#vig)"/><g filter="url(#bl6)"><rect x="0" y="0" width="39.2" height="1.2" fill="#383838"/><rect x="0" y="1.2" width="39.2" height="3.00" fill="#1c1c1c"/><rect x="0" y="4.20" width="39.2" height="3.60" fill="#444444"/><rect x="1.5" y="7.80" width="36" height="1.2" fill="#1e1e1e"/><rect x="2" y="9.50" width="35" height="15.00" fill="#4a4a4a" opacity="0.7"/><ellipse cx="5.8" cy="4.00" rx="1.3" ry="3.0" fill="#707070"/><ellipse cx="31.0" cy="3.20" rx="1.3" ry="2.8" fill="#707070"/></g><rect x="0" y="0" width="39.2" height="38.6" fill="url(#edges)"/><ellipse cx="4.6" cy="27.4" rx="8.5" ry="10.5" fill="url(#glow)"/><ellipse cx="33.8" cy="27.2" rx="8.5" ry="10.5" fill="url(#glow)"/><ellipse cx="4.6" cy="27.6" rx="2.6" ry="3.4" fill="#ffffff" opacity="0.6" filter="url(#blg)"/><ellipse cx="33.8" cy="27.4" rx="2.6" ry="3.4" fill="#ffffff" opacity="0.6" filter="url(#blg)"/><g stroke="#808080" stroke-width="0.8" filter="url(#bl3)"><line x1="7.00" y1="24.00" x2="7.60" y2="37.2"/><line x1="13.50" y1="24.00" x2="14.10" y2="37.2"/><line x1="19.80" y1="24.00" x2="19.80" y2="37.2"/><line x1="26.00" y1="24.00" x2="25.40" y2="37.2"/><line x1="32.40" y1="24.00" x2="31.80" y2="37.2"/></g><g filter="url(#bl)"><path d="M5.80,9.00 L8.20,9.00 L9.00,13.20 L5.00,13.20 Z" fill="#7c7c7c"/><path d="M4.70,13.80 C4.70,12.50 9.30,12.50 9.30,13.80 L9.90,22.00 C10.00,25.20 4.00,25.20 4.10,22.00 Z" fill="url(#mbody)"/><path d="M12.30,9.00 L14.70,9.00 L15.50,13.20 L11.50,13.20 Z" fill="#7c7c7c"/><path d="M11.20,13.80 C11.20,12.50 15.80,12.50 15.80,13.80 L16.40,22.00 C16.50,25.20 10.50,25.20 10.60,22.00 Z" fill="url(#mbody)"/><path d="M18.60,9.00 L21.00,9.00 L21.80,13.20 L17.80,13.20 Z" fill="#7c7c7c"/><path d="M17.50,13.80 C17.50,12.50 22.10,12.50 22.10,13.80 L22.70,22.00 C22.80,25.20 16.80,25.20 16.90,22.00 Z" fill="url(#mbody)"/><path d="M24.80,9.00 L27.20,9.00 L28.00,13.20 L24.00,13.20 Z" fill="#7c7c7c"/><path d="M23.70,13.80 C23.70,12.50 28.30,12.50 28.30,13.80 L28.90,22.00 C29.00,25.20 23.00,25.20 23.10,22.00 Z" fill="url(#mbody)"/><path d="M31.20,9.00 L33.60,9.00 L34.40,13.20 L30.40,13.20 Z" fill="#7c7c7c"/><path d="M30.10,13.80 C30.10,12.50 34.70,12.50 34.70,13.80 L35.30,22.00 C35.40,25.20 29.40,25.20 29.50,22.00 Z" fill="url(#mbody)"/></g><g filter="url(#bl3)"><ellipse cx="7.27" cy="21.36" rx="2.44" ry="3.09" fill="#b4acff" opacity="0.85"/><ellipse cx="6.31" cy="20.18" rx="1.36" ry="1.79" fill="#3028ff"/><ellipse cx="6.74" cy="20.54" rx="0.98" ry="1.29" fill="#5522ff"/><ellipse cx="8.35" cy="21.75" rx="1.35" ry="1.77" fill="#3028ff"/><ellipse cx="7.37" cy="21.20" rx="1.09" ry="1.44" fill="#3a18ff"/><ellipse cx="13.72" cy="20.89" rx="2.44" ry="3.09" fill="#b4acff" opacity="0.85"/><ellipse cx="14.66" cy="22.05" rx="1.17" ry="1.53" fill="#5522ff"/><ellipse cx="13.85" cy="20.14" rx="0.97" ry="1.28" fill="#3028ff"/><ellipse cx="13.02" cy="20.92" rx="1.13" ry="1.49" fill="#5522ff"/><ellipse cx="14.79" cy="20.74" rx="1.16" ry="1.53" fill="#3028ff"/><ellipse cx="19.97" cy="20.88" rx="2.30" ry="2.90" fill="#b4acff" opacity="0.85"/><ellipse cx="20.94" cy="22.11" rx="0.97" ry="1.27" fill="#4814ee"/><ellipse cx="20.41" cy="20.78" rx="1.13" ry="1.49" fill="#4814ee"/><ellipse cx="19.53" cy="20.88" rx="1.13" ry="1.48" fill="#3028ff"/><ellipse cx="20.30" cy="20.76" rx="1.30" ry="1.71" fill="#3028ff"/><ellipse cx="26.04" cy="21.34" rx="2.65" ry="3.38" fill="#b4acff" opacity="0.85"/><ellipse cx="26.57" cy="21.29" rx="1.18" ry="1.56" fill="#3028ff"/><ellipse cx="26.79" cy="22.39" rx="1.52" ry="2.01" fill="#3028ff"/><ellipse cx="26.69" cy="21.27" rx="1.22" ry="1.61" fill="#4814ee"/><ellipse cx="25.59" cy="20.42" rx="1.33" ry="1.76" fill="#3a18ff"/><ellipse cx="26.72" cy="20.84" rx="1.06" ry="1.41" fill="#5522ff"/><ellipse cx="27.23" cy="20.10" rx="1.36" ry="1.80" fill="#3a18ff"/><ellipse cx="25.50" cy="20.52" rx="0.55" ry="0.5" fill="#10a0f0"/><ellipse cx="26.94" cy="20.16" rx="0.55" ry="0.5" fill="#10a0f0"/><ellipse cx="32.41" cy="21.28" rx="2.65" ry="3.38" fill="#b4acff" opacity="0.85"/><ellipse cx="31.80" cy="20.37" rx="1.53" ry="2.02" fill="#4814ee"/><ellipse cx="33.36" cy="22.10" rx="1.09" ry="1.44" fill="#3028ff"/><ellipse cx="31.63" cy="21.83" rx="1.10" ry="1.46" fill="#3a18ff"/><ellipse cx="31.28" cy="22.01" rx="1.07" ry="1.41" fill="#3028ff"/><ellipse cx="31.53" cy="22.66" rx="1.45" ry="1.91" fill="#3a18ff"/><ellipse cx="32.14" cy="19.84" rx="1.58" ry="2.09" fill="#5522ff"/><ellipse cx="33.54" cy="19.80" rx="0.55" ry="0.5" fill="#10a0f0"/><ellipse cx="33.47" cy="21.67" rx="0.55" ry="0.5" fill="#10a0f0"/></g></g></g>
<g transform="translate(347.00,288.90)"><g clip-path="url(#tclip)"><rect x="0" y="0" width="39.2" height="38.6" fill="url(#vig)"/><g filter="url(#bl6)"><rect x="0" y="0" width="39.2" height="1.2" fill="#383838"/><rect x="0" y="1.2" width="39.2" height="1.00" fill="#1c1c1c"/><rect x="0" y="2.20" width="39.2" height="1.60" fill="#444444"/><rect x="1.5" y="3.80" width="36" height="1.2" fill="#1e1e1e"/><rect x="2" y="5.50" width="35" height="15.00" fill="#4a4a4a" opacity="0.7"/><ellipse cx="5.8" cy="2.00" rx="1.3" ry="3.0" fill="#707070"/><ellipse cx="31.0" cy="1.20" rx="1.3" ry="2.8" fill="#707070"/></g><rect x="0" y="0" width="39.2" height="38.6" fill="url(#edges)"/><ellipse cx="4.6" cy="27.4" rx="8.5" ry="10.5" fill="url(#glow)"/><ellipse cx="33.8" cy="27.2" rx="8.5" ry="10.5" fill="url(#glow)"/><ellipse cx="4.6" cy="27.6" rx="2.6" ry="3.4" fill="#ffffff" opacity="0.6" filter="url(#blg)"/><ellipse cx="33.8" cy="27.4" rx="2.6" ry="3.4" fill="#ffffff" opacity="0.6" filter="url(#blg)"/><g stroke="#808080" stroke-width="0.8" filter="url(#bl3)"><line x1="7.00" y1="20.00" x2="7.60" y2="37.2"/><line x1="13.50" y1="20.00" x2="14.10" y2="37.2"/><line x1="19.80" y1="20.00" x2="19.80" y2="37.2"/><line x1="26.00" y1="20.00" x2="25.40" y2="37.2"/><line x1="32.40" y1="20.00" x2="31.80" y2="37.2"/></g><g filter="url(#bl)"><path d="M5.80,5.00 L8.20,5.00 L9.00,9.20 L5.00,9.20 Z" fill="#7c7c7c"/><path d="M4.70,9.80 C4.70,8.50 9.30,8.50 9.30,9.80 L9.90,18.00 C10.00,21.20 4.00,21.20 4.10,18.00 Z" fill="url(#mbody)"/><path d="M12.30,5.00 L14.70,5.00 L15.50,9.20 L11.50,9.20 Z" fill="#7c7c7c"/><path d="M11.20,9.80 C11.20,8.50 15.80,8.50 15.80,9.80 L16.40,18.00 C16.50,21.20 10.50,21.20 10.60,18.00 Z" fill="url(#mbody)"/><path d="M18.60,5.00 L21.00,5.00 L21.80,9.20 L17.80,9.20 Z" fill="#7c7c7c"/><path d="M17.50,9.80 C17.50,8.50 22.10,8.50 22.10,9.80 L22.70,18.00 C22.80,21.20 16.80,21.20 16.90,18.00 Z" fill="url(#mbody)"/><path d="M24.80,5.00 L27.20,5.00 L28.00,9.20 L24.00,9.20 Z" fill="#7c7c7c"/><path d="M23.70,9.80 C23.70,8.50 28.30,8.50 28.30,9.80 L28.90,18.00 C29.00,21.20 23.00,21.20 23.10,18.00 Z" fill="url(#mbody)"/><path d="M31.20,5.00 L33.60,5.00 L34.40,9.20 L30.40,9.20 Z" fill="#7c7c7c"/><path d="M30.10,9.80 C30.10,8.50 34.70,8.50 34.70,9.80 L35.30,18.00 C35.40,21.20 29.40,21.20 29.50,18.00 Z" fill="url(#mbody)"/></g><g filter="url(#bl3)"><ellipse cx="7.04" cy="16.94" rx="2.09" ry="2.61" fill="#b4acff" opacity="0.85"/><ellipse cx="7.18" cy="16.25" rx="1.12" ry="1.47" fill="#3028ff"/><ellipse cx="7.32" cy="16.15" rx="1.01" ry="1.31" fill="#3028ff"/><ellipse cx="6.28" cy="18.00" rx="1.09" ry="1.43" fill="#3028ff"/><ellipse cx="6.23" cy="17.79" rx="1.04" ry="1.36" fill="#4814ee"/><ellipse cx="13.45" cy="17.26" rx="2.09" ry="2.61" fill="#b4acff" opacity="0.85"/><ellipse cx="13.03" cy="16.50" rx="0.92" ry="1.20" fill="#3028ff"/><ellipse cx="12.79" cy="17.89" rx="1.19" ry="1.55" fill="#4814ee"/><ellipse cx="13.66" cy="16.19" rx="0.80" ry="1.04" fill="#5522ff"/><ellipse cx="12.91" cy="18.22" rx="1.01" ry="1.32" fill="#5522ff"/><ellipse cx="19.69" cy="17.04" rx="1.89" ry="2.33" fill="#b4acff" opacity="0.85"/><ellipse cx="19.59" cy="16.15" rx="0.90" ry="1.17" fill="#5522ff"/><ellipse cx="20.23" cy="18.00" rx="0.78" ry="1.02" fill="#3a18ff"/><ellipse cx="19.68" cy="17.69" rx="0.93" ry="1.21" fill="#3a18ff"/><ellipse cx="19.14" cy="17.18" rx="0.83" ry="1.08" fill="#5522ff"/><ellipse cx="25.77" cy="17.22" rx="1.59" ry="1.59" fill="#b0a8ff" opacity="0.8"/><ellipse cx="25.77" cy="17.22" rx="1.09" ry="1.09" fill="#4420ff"/><ellipse cx="32.16" cy="16.73" rx="2.30" ry="2.90" fill="#b4acff" opacity="0.85"/><ellipse cx="32.78" cy="17.92" rx="1.09" ry="1.43" fill="#4814ee"/><ellipse cx="32.05" cy="17.21" rx="0.96" ry="1.26" fill="#5522ff"/><ellipse cx="32.89" cy="16.12" rx="1.03" ry="1.35" fill="#5522ff"/><ellipse cx="32.72" cy="16.68" rx="1.05" ry="1.38" fill="#4814ee"/></g></g></g>
<g transform="translate(388.20,288.90)"><g clip-path="url(#tclip)"><rect x="0" y="0" width="39.2" height="38.6" fill="url(#vig)"/><g filter="url(#bl6)"><rect x="0" y="0" width="39.2" height="1.2" fill="#383838"/><rect x="0" y="1.2" width="39.2" height="1.00" fill="#1c1c1c"/><rect x="0" y="2.20" width="39.2" height="1.60" fill="#444444"/><rect x="1.5" y="3.80" width="36" height="1.2" fill="#1e1e1e"/><rect x="2" y="5.50" width="35" height="15.00" fill="#4a4a4a" opacity="0.7"/><ellipse cx="5.8" cy="2.00" rx="1.3" ry="3.0" fill="#707070"/><ellipse cx="31.0" cy="1.20" rx="1.3" ry="2.8" fill="#707070"/></g><rect x="0" y="0" width="39.2" height="38.6" fill="url(#edges)"/><ellipse cx="4.6" cy="27.4" rx="8.5" ry="10.5" fill="url(#glow)"/><ellipse cx="33.8" cy="27.2" rx="8.5" ry="10.5" fill="url(#glow)"/><ellipse cx="4.6" cy="27.6" rx="2.6" ry="3.4" fill="#ffffff" opacity="0.6" filter="url(#blg)"/><ellipse cx="33.8" cy="27.4" rx="2.6" ry="3.4" fill="#ffffff" opacity="0.6" filter="url(#blg)"/><g stroke="#808080" stroke-width="0.8" filter="url(#bl3)"><line x1="7.00" y1="20.00" x2="7.60" y2="37.2"/><line x1="13.50" y1="20.00" x2="14.10" y2="37.2"/><line x1="19.80" y1="20.00" x2="19.80" y2="37.2"/><line x1="26.00" y1="20.00" x2="25.40" y2="37.2"/><line x1="32.40" y1="20.00" x2="31.80" y2="37.2"/></g><g filter="url(#bl)"><path d="M5.80,5.00 L8.20,5.00 L9.00,9.20 L5.00,9.20 Z" fill="#7c7c7c"/><path d="M4.70,9.80 C4.70,8.50 9.30,8.50 9.30,9.80 L9.90,18.00 C10.00,21.20 4.00,21.20 4.10,18.00 Z" fill="url(#mbody)"/><path d="M12.30,5.00 L14.70,5.00 L15.50,9.20 L11.50,9.20 Z" fill="#7c7c7c"/><path d="M11.20,9.80 C11.20,8.50 15.80,8.50 15.80,9.80 L16.40,18.00 C16.50,21.20 10.50,21.20 10.60,18.00 Z" fill="url(#mbody)"/><path d="M18.60,5.00 L21.00,5.00 L21.80,9.20 L17.80,9.20 Z" fill="#7c7c7c"/><path d="M17.50,9.80 C17.50,8.50 22.10,8.50 22.10,9.80 L22.70,18.00 C22.80,21.20 16.80,21.20 16.90,18.00 Z" fill="url(#mbody)"/><path d="M24.80,5.00 L27.20,5.00 L28.00,9.20 L24.00,9.20 Z" fill="#7c7c7c"/><path d="M23.70,9.80 C23.70,8.50 28.30,8.50 28.30,9.80 L28.90,18.00 C29.00,21.20 23.00,21.20 23.10,18.00 Z" fill="url(#mbody)"/><path d="M31.20,5.00 L33.60,5.00 L34.40,9.20 L30.40,9.20 Z" fill="#7c7c7c"/><path d="M30.10,9.80 C30.10,8.50 34.70,8.50 34.70,9.80 L35.30,18.00 C35.40,21.20 29.40,21.20 29.50,18.00 Z" fill="url(#mbody)"/></g><g filter="url(#bl3)"><ellipse cx="6.97" cy="17.05" rx="2.65" ry="3.38" fill="#b4acff" opacity="0.85"/><ellipse cx="7.98" cy="16.94" rx="1.33" ry="1.76" fill="#5522ff"/><ellipse cx="6.22" cy="17.09" rx="1.39" ry="1.84" fill="#5522ff"/><ellipse cx="6.00" cy="16.43" rx="1.11" ry="1.46" fill="#3a18ff"/><ellipse cx="7.20" cy="16.72" rx="1.30" ry="1.72" fill="#5522ff"/><ellipse cx="7.27" cy="18.09" rx="1.09" ry="1.44" fill="#3a18ff"/><ellipse cx="6.23" cy="16.23" rx="1.08" ry="1.42" fill="#4814ee"/><ellipse cx="6.55" cy="17.32" rx="0.55" ry="0.5" fill="#10a0f0"/><ellipse cx="6.24" cy="16.25" rx="0.55" ry="0.5" fill="#10a0f0"/><ellipse cx="13.38" cy="16.60" rx="2.72" ry="3.47" fill="#b4acff" opacity="0.85"/><ellipse cx="12.36" cy="17.11" rx="1.32" ry="1.74" fill="#3a18ff"/><ellipse cx="13.89" cy="16.00" rx="1.22" ry="1.61" fill="#3028ff"/><ellipse cx="12.22" cy="16.81" rx="1.15" ry="1.52" fill="#3a18ff"/><ellipse cx="14.23" cy="16.23" rx="1.62" ry="2.14" fill="#3a18ff"/><ellipse cx="12.67" cy="17.99" rx="1.12" ry="1.48" fill="#4814ee"/><ellipse cx="14.56" cy="16.27" rx="1.13" ry="1.50" fill="#5522ff"/><ellipse cx="14.04" cy="15.91" rx="0.55" ry="0.5" fill="#10a0f0"/><ellipse cx="12.39" cy="16.10" rx="0.55" ry="0.5" fill="#10a0f0"/><ellipse cx="20.08" cy="17.21" rx="2.51" ry="3.18" fill="#b4acff" opacity="0.85"/><ellipse cx="19.22" cy="16.46" rx="1.04" ry="1.38" fill="#3a18ff"/><ellipse cx="20.00" cy="17.17" rx="1.33" ry="1.76" fill="#5522ff"/><ellipse cx="19.96" cy="16.29" rx="1.36" ry="1.79" fill="#5522ff"/><ellipse cx="19.90" cy="16.86" rx="1.19" ry="1.57" fill="#5522ff"/><ellipse cx="25.70" cy="17.29" rx="2.72" ry="3.47" fill="#b4acff" opacity="0.85"/><ellipse cx="26.87" cy="17.59" rx="1.64" ry="2.17" fill="#3a18ff"/><ellipse cx="24.99" cy="16.95" rx="1.56" ry="2.06" fill="#3a18ff"/><ellipse cx="24.57" cy="16.14" rx="1.33" ry="1.76" fill="#3a18ff"/><ellipse cx="26.37" cy="16.74" rx="1.25" ry="1.66" fill="#3a18ff"/><ellipse cx="24.65" cy="16.34" rx="1.44" ry="1.90" fill="#3a18ff"/><ellipse cx="25.95" cy="16.87" rx="1.34" ry="1.77" fill="#4814ee"/><ellipse cx="26.50" cy="16.20" rx="0.55" ry="0.5" fill="#10a0f0"/><ellipse cx="25.43" cy="17.67" rx="0.55" ry="0.5" fill="#10a0f0"/><ellipse cx="32.29" cy="16.78" rx="2.58" ry="3.28" fill="#b4acff" opacity="0.85"/><ellipse cx="32.54" cy="17.47" rx="1.11" ry="1.46" fill="#5522ff"/><ellipse cx="32.72" cy="16.44" rx="1.28" ry="1.68" fill="#3a18ff"/><ellipse cx="32.10" cy="15.57" rx="1.05" ry="1.38" fill="#3028ff"/><ellipse cx="31.68" cy="17.41" rx="1.16" ry="1.53" fill="#4814ee"/><ellipse cx="31.81" cy="15.79" rx="1.40" ry="1.84" fill="#3a18ff"/><ellipse cx="31.42" cy="16.72" rx="1.36" ry="1.80" fill="#3a18ff"/><ellipse cx="31.76" cy="18.03" rx="0.55" ry="0.5" fill="#10a0f0"/><ellipse cx="31.58" cy="15.33" rx="0.55" ry="0.5" fill="#10a0f0"/></g></g></g>
<g transform="translate(428.80,288.90)"><g clip-path="url(#tclip)"><rect x="0" y="0" width="39.2" height="38.6" fill="url(#vig)"/><g filter="url(#bl6)"><rect x="0" y="0" width="39.2" height="1.2" fill="#383838"/><rect x="0" y="1.2" width="39.2" height="1.00" fill="#1c1c1c"/><rect x="0" y="2.20" width="39.2" height="1.60" fill="#444444"/><rect x="1.5" y="3.80" width="36" height="1.2" fill="#1e1e1e"/><rect x="2" y="5.50" width="35" height="15.00" fill="#4a4a4a" opacity="0.7"/><ellipse cx="5.8" cy="2.00" rx="1.3" ry="3.0" fill="#707070"/><ellipse cx="31.0" cy="1.20" rx="1.3" ry="2.8" fill="#707070"/></g><rect x="0" y="0" width="39.2" height="38.6" fill="url(#edges)"/><ellipse cx="4.6" cy="27.4" rx="8.5" ry="10.5" fill="url(#glow)"/><ellipse cx="33.8" cy="27.2" rx="8.5" ry="10.5" fill="url(#glow)"/><ellipse cx="4.6" cy="27.6" rx="2.6" ry="3.4" fill="#ffffff" opacity="0.6" filter="url(#blg)"/><ellipse cx="33.8" cy="27.4" rx="2.6" ry="3.4" fill="#ffffff" opacity="0.6" filter="url(#blg)"/><g stroke="#808080" stroke-width="0.8" filter="url(#bl3)"><line x1="7.00" y1="20.00" x2="7.60" y2="37.2"/><line x1="13.50" y1="20.00" x2="14.10" y2="37.2"/><line x1="19.80" y1="20.00" x2="19.80" y2="37.2"/><line x1="26.00" y1="20.00" x2="25.40" y2="37.2"/><line x1="32.40" y1="20.00" x2="31.80" y2="37.2"/></g><g filter="url(#bl)"><path d="M5.80,5.00 L8.20,5.00 L9.00,9.20 L5.00,9.20 Z" fill="#7c7c7c"/><path d="M4.70,9.80 C4.70,8.50 9.30,8.50 9.30,9.80 L9.90,18.00 C10.00,21.20 4.00,21.20 4.10,18.00 Z" fill="url(#mbody)"/><path d="M12.30,5.00 L14.70,5.00 L15.50,9.20 L11.50,9.20 Z" fill="#7c7c7c"/><path d="M11.20,9.80 C11.20,8.50 15.80,8.50 15.80,9.80 L16.40,18.00 C16.50,21.20 10.50,21.20 10.60,18.00 Z" fill="url(#mbody)"/><path d="M18.60,5.00 L21.00,5.00 L21.80,9.20 L17.80,9.20 Z" fill="#7c7c7c"/><path d="M17.50,9.80 C17.50,8.50 22.10,8.50 22.10,9.80 L22.70,18.00 C22.80,21.20 16.80,21.20 16.90,18.00 Z" fill="url(#mbody)"/><path d="M24.80,5.00 L27.20,5.00 L28.00,9.20 L24.00,9.20 Z" fill="#7c7c7c"/><path d="M23.70,9.80 C23.70,8.50 28.30,8.50 28.30,9.80 L28.90,18.00 C29.00,21.20 23.00,21.20 23.10,18.00 Z" fill="url(#mbody)"/><path d="M31.20,5.00 L33.60,5.00 L34.40,9.20 L30.40,9.20 Z" fill="#7c7c7c"/><path d="M30.10,9.80 C30.10,8.50 34.70,8.50 34.70,9.80 L35.30,18.00 C35.40,21.20 29.40,21.20 29.50,18.00 Z" fill="url(#mbody)"/></g><g filter="url(#bl3)"><ellipse cx="6.98" cy="17.13" rx="1.41" ry="1.41" fill="#b0a8ff" opacity="0.8"/><ellipse cx="6.98" cy="17.13" rx="0.91" ry="0.91" fill="#4420ff"/><ellipse cx="13.60" cy="16.71" rx="1.41" ry="1.41" fill="#b0a8ff" opacity="0.8"/><ellipse cx="13.60" cy="16.71" rx="0.91" ry="0.91" fill="#4420ff"/><ellipse cx="19.51" cy="16.90" rx="1.46" ry="1.46" fill="#b0a8ff" opacity="0.8"/><ellipse cx="19.51" cy="16.90" rx="0.96" ry="0.96" fill="#4420ff"/><ellipse cx="25.86" cy="17.25" rx="1.55" ry="1.55" fill="#b0a8ff" opacity="0.8"/><ellipse cx="25.86" cy="17.25" rx="1.05" ry="1.05" fill="#4420ff"/><ellipse cx="32.51" cy="17.08" rx="1.46" ry="1.46" fill="#b0a8ff" opacity="0.8"/><ellipse cx="32.51" cy="17.08" rx="0.96" ry="0.96" fill="#4420ff"/></g></g></g>
<g transform="translate(347.00,328.50)"><g clip-path="url(#tclip)"><rect x="0" y="0" width="39.2" height="38.6" fill="url(#vig)"/><g filter="url(#bl6)"><rect x="0" y="0" width="39.2" height="1.2" fill="#383838"/><rect x="0" y="1.2" width="39.2" height="2.35" fill="#1c1c1c"/><rect x="0" y="3.55" width="39.2" height="2.95" fill="#444444"/><rect x="1.5" y="6.50" width="36" height="1.2" fill="#1e1e1e"/><rect x="2" y="8.20" width="35" height="15.00" fill="#4a4a4a" opacity="0.7"/><ellipse cx="5.8" cy="3.35" rx="1.3" ry="3.0" fill="#707070"/><ellipse cx="31.0" cy="2.55" rx="1.3" ry="2.8" fill="#707070"/></g><rect x="0" y="0" width="39.2" height="38.6" fill="url(#edges)"/><ellipse cx="4.6" cy="27.4" rx="8.5" ry="10.5" fill="url(#glow)"/><ellipse cx="33.8" cy="27.2" rx="8.5" ry="10.5" fill="url(#glow)"/><ellipse cx="4.6" cy="27.6" rx="2.6" ry="3.4" fill="#ffffff" opacity="0.6" filter="url(#blg)"/><ellipse cx="33.8" cy="27.4" rx="2.6" ry="3.4" fill="#ffffff" opacity="0.6" filter="url(#blg)"/><g stroke="#808080" stroke-width="0.8" filter="url(#bl3)"><line x1="7.00" y1="22.70" x2="7.60" y2="37.2"/><line x1="13.50" y1="22.70" x2="14.10" y2="37.2"/><line x1="19.80" y1="22.70" x2="19.80" y2="37.2"/><line x1="26.00" y1="22.70" x2="25.40" y2="37.2"/><line x1="32.40" y1="22.70" x2="31.80" y2="37.2"/></g><g filter="url(#bl)"><path d="M5.80,7.70 L8.20,7.70 L9.00,11.90 L5.00,11.90 Z" fill="#7c7c7c"/><path d="M4.70,12.50 C4.70,11.20 9.30,11.20 9.30,12.50 L9.90,20.70 C10.00,23.90 4.00,23.90 4.10,20.70 Z" fill="url(#mbody)"/><path d="M12.30,7.70 L14.70,7.70 L15.50,11.90 L11.50,11.90 Z" fill="#7c7c7c"/><path d="M11.20,12.50 C11.20,11.20 15.80,11.20 15.80,12.50 L16.40,20.70 C16.50,23.90 10.50,23.90 10.60,20.70 Z" fill="url(#mbody)"/><path d="M18.60,7.70 L21.00,7.70 L21.80,11.90 L17.80,11.90 Z" fill="#7c7c7c"/><path d="M17.50,12.50 C17.50,11.20 22.10,11.20 22.10,12.50 L22.70,20.70 C22.80,23.90 16.80,23.90 16.90,20.70 Z" fill="url(#mbody)"/><path d="M24.80,7.70 L27.20,7.70 L28.00,11.90 L24.00,11.90 Z" fill="#7c7c7c"/><path d="M23.70,12.50 C23.70,11.20 28.30,11.20 28.30,12.50 L28.90,20.70 C29.00,23.90 23.00,23.90 23.10,20.70 Z" fill="url(#mbody)"/><path d="M31.20,7.70 L33.60,7.70 L34.40,11.90 L30.40,11.90 Z" fill="#7c7c7c"/><path d="M30.10,12.50 C30.10,11.20 34.70,11.20 34.70,12.50 L35.30,20.70 C35.40,23.90 29.40,23.90 29.50,20.70 Z" fill="url(#mbody)"/></g><g filter="url(#bl3)"><ellipse cx="7.24" cy="19.85" rx="2.93" ry="3.76" fill="#b4acff" opacity="0.85"/><ellipse cx="7.96" cy="21.29" rx="1.35" ry="1.78" fill="#3a18ff"/><ellipse cx="8.24" cy="20.11" rx="1.29" ry="1.71" fill="#4814ee"/><ellipse cx="6.99" cy="18.34" rx="1.27" ry="1.68" fill="#4814ee"/><ellipse cx="8.45" cy="19.67" rx="1.32" ry="1.74" fill="#3028ff"/><ellipse cx="7.58" cy="20.49" rx="1.39" ry="1.84" fill="#3a18ff"/><ellipse cx="7.59" cy="20.93" rx="1.48" ry="1.97" fill="#3a18ff"/><ellipse cx="6.54" cy="19.08" rx="0.55" ry="0.5" fill="#10a0f0"/><ellipse cx="6.53" cy="18.60" rx="0.55" ry="0.5" fill="#10a0f0"/><ellipse cx="6.75" cy="20.38" rx="0.55" ry="0.55" fill="#ff9000"/><ellipse cx="6.85" cy="19.36" rx="0.55" ry="0.5" fill="#30d060"/><ellipse cx="13.57" cy="20.02" rx="2.86" ry="3.66" fill="#b4acff" opacity="0.85"/><ellipse cx="12.97" cy="19.11" rx="1.65" ry="2.18" fill="#5522ff"/><ellipse cx="12.42" cy="21.06" rx="1.52" ry="2.01" fill="#3028ff"/><ellipse cx="12.63" cy="20.53" rx="1.51" ry="1.99" fill="#4814ee"/><ellipse cx="14.63" cy="21.48" rx="1.32" ry="1.74" fill="#4814ee"/><ellipse cx="12.68" cy="19.70" rx="1.57" ry="2.08" fill="#3a18ff"/><ellipse cx="14.07" cy="21.74" rx="1.49" ry="1.98" fill="#3028ff"/><ellipse cx="12.91" cy="21.24" rx="0.55" ry="0.5" fill="#10a0f0"/><ellipse cx="12.50" cy="19.10" rx="0.55" ry="0.5" fill="#10a0f0"/><ellipse cx="19.60" cy="19.44" rx="2.93" ry="3.76" fill="#b4acff" opacity="0.85"/><ellipse cx="18.48" cy="20.45" rx="1.37" ry="1.81" fill="#3028ff"/><ellipse cx="20.07" cy="19.09" rx="1.46" ry="1.94" fill="#3a18ff"/><ellipse cx="20.50" cy="18.24" rx="1.75" ry="2.32" fill="#3028ff"/><ellipse cx="18.30" cy="19.70" rx="1.26" ry="1.66" fill="#3028ff"/><ellipse cx="18.95" cy="17.97" rx="1.59" ry="2.10" fill="#3028ff"/><ellipse cx="20.04" cy="20.46" rx="1.31" ry="1.73" fill="#3a18ff"/><ellipse cx="18.78" cy="20.71" rx="0.55" ry="0.5" fill="#10a0f0"/><ellipse cx="20.19" cy="20.63" rx="0.55" ry="0.5" fill="#10a0f0"/><ellipse cx="20.39" cy="20.19" rx="0.55" ry="0.55" fill="#ff9000"/><ellipse cx="19.44" cy="18.66" rx="0.55" ry="0.5" fill="#30d060"/><ellipse cx="25.76" cy="19.49" rx="2.72" ry="3.47" fill="#b4acff" opacity="0.85"/><ellipse cx="26.64" cy="18.18" rx="1.16" ry="1.54" fill="#4814ee"/><ellipse cx="26.71" cy="19.97" rx="1.34" ry="1.77" fill="#3a18ff"/><ellipse cx="24.97" cy="20.51" rx="1.26" ry="1.67" fill="#3a18ff"/><ellipse cx="26.76" cy="18.83" rx="1.29" ry="1.71" fill="#3028ff"/><ellipse cx="24.88" cy="20.23" rx="1.10" ry="1.45" fill="#3a18ff"/><ellipse cx="26.69" cy="19.08" rx="1.62" ry="2.15" fill="#4814ee"/><ellipse cx="26.91" cy="20.70" rx="0.55" ry="0.5" fill="#10a0f0"/><ellipse cx="26.50" cy="18.19" rx="0.55" ry="0.5" fill="#10a0f0"/><ellipse cx="32.38" cy="20.07" rx="2.79" ry="3.57" fill="#b4acff" opacity="0.85"/><ellipse cx="31.14" cy="20.85" rx="1.16" ry="1.54" fill="#3028ff"/><ellipse cx="32.93" cy="19.00" rx="1.29" ry="1.71" fill="#3a18ff"/><ellipse cx="31.12" cy="21.70" rx="1.24" ry="1.65" fill="#5522ff"/><ellipse cx="32.68" cy="19.76" rx="1.46" ry="1.94" fill="#3028ff"/><ellipse cx="33.11" cy="19.88" rx="1.58" ry="2.09" fill="#5522ff"/><ellipse cx="33.35" cy="19.66" rx="1.61" ry="2.13" fill="#4814ee"/><ellipse cx="32.13" cy="18.58" rx="0.55" ry="0.5" fill="#10a0f0"/><ellipse cx="33.05" cy="19.95" rx="0.55" ry="0.5" fill="#10a0f0"/></g></g></g>
<g transform="translate(388.20,328.50)"><g clip-path="url(#tclip)"><rect x="0" y="0" width="39.2" height="38.6" fill="url(#vig)"/><g filter="url(#bl6)"><rect x="0" y="0" width="39.2" height="1.2" fill="#383838"/><rect x="0" y="1.2" width="39.2" height="2.35" fill="#1c1c1c"/><rect x="0" y="3.55" width="39.2" height="2.95" fill="#444444"/><rect x="1.5" y="6.50" width="36" height="1.2" fill="#1e1e1e"/><rect x="2" y="8.20" width="35" height="15.00" fill="#4a4a4a" opacity="0.7"/><ellipse cx="5.8" cy="3.35" rx="1.3" ry="3.0" fill="#707070"/><ellipse cx="31.0" cy="2.55" rx="1.3" ry="2.8" fill="#707070"/></g><rect x="0" y="0" width="39.2" height="38.6" fill="url(#edges)"/><ellipse cx="4.6" cy="27.4" rx="8.5" ry="10.5" fill="url(#glow)"/><ellipse cx="33.8" cy="27.2" rx="8.5" ry="10.5" fill="url(#glow)"/><ellipse cx="4.6" cy="27.6" rx="2.6" ry="3.4" fill="#ffffff" opacity="0.6" filter="url(#blg)"/><ellipse cx="33.8" cy="27.4" rx="2.6" ry="3.4" fill="#ffffff" opacity="0.6" filter="url(#blg)"/><g stroke="#808080" stroke-width="0.8" filter="url(#bl3)"><line x1="7.00" y1="22.70" x2="7.60" y2="37.2"/><line x1="13.50" y1="22.70" x2="14.10" y2="37.2"/><line x1="19.80" y1="22.70" x2="19.80" y2="37.2"/><line x1="26.00" y1="22.70" x2="25.40" y2="37.2"/><line x1="32.40" y1="22.70" x2="31.80" y2="37.2"/></g><g filter="url(#bl)"><path d="M5.80,7.70 L8.20,7.70 L9.00,11.90 L5.00,11.90 Z" fill="#7c7c7c"/><path d="M4.70,12.50 C4.70,11.20 9.30,11.20 9.30,12.50 L9.90,20.70 C10.00,23.90 4.00,23.90 4.10,20.70 Z" fill="url(#mbody)"/><path d="M12.30,7.70 L14.70,7.70 L15.50,11.90 L11.50,11.90 Z" fill="#7c7c7c"/><path d="M11.20,12.50 C11.20,11.20 15.80,11.20 15.80,12.50 L16.40,20.70 C16.50,23.90 10.50,23.90 10.60,20.70 Z" fill="url(#mbody)"/><path d="M18.60,7.70 L21.00,7.70 L21.80,11.90 L17.80,11.90 Z" fill="#7c7c7c"/><path d="M17.50,12.50 C17.50,11.20 22.10,11.20 22.10,12.50 L22.70,20.70 C22.80,23.90 16.80,23.90 16.90,20.70 Z" fill="url(#mbody)"/><path d="M24.80,7.70 L27.20,7.70 L28.00,11.90 L24.00,11.90 Z" fill="#7c7c7c"/><path d="M23.70,12.50 C23.70,11.20 28.30,11.20 28.30,12.50 L28.90,20.70 C29.00,23.90 23.00,23.90 23.10,20.70 Z" fill="url(#mbody)"/><path d="M31.20,7.70 L33.60,7.70 L34.40,11.90 L30.40,11.90 Z" fill="#7c7c7c"/><path d="M30.10,12.50 C30.10,11.20 34.70,11.20 34.70,12.50 L35.30,20.70 C35.40,23.90 29.40,23.90 29.50,20.70 Z" fill="url(#mbody)"/></g><g filter="url(#bl3)"><ellipse cx="6.80" cy="19.85" rx="2.23" ry="2.80" fill="#b4acff" opacity="0.85"/><ellipse cx="7.06" cy="19.80" rx="0.96" ry="1.25" fill="#4814ee"/><ellipse cx="7.40" cy="19.88" rx="1.08" ry="1.42" fill="#5522ff"/><ellipse cx="7.36" cy="18.62" rx="1.27" ry="1.66" fill="#4814ee"/><ellipse cx="5.96" cy="20.60" rx="0.96" ry="1.26" fill="#5522ff"/><ellipse cx="13.62" cy="19.65" rx="2.44" ry="3.09" fill="#b4acff" opacity="0.85"/><ellipse cx="14.69" cy="20.42" rx="1.16" ry="1.52" fill="#4814ee"/><ellipse cx="12.61" cy="19.16" rx="1.20" ry="1.58" fill="#3a18ff"/><ellipse cx="13.94" cy="20.90" rx="0.97" ry="1.28" fill="#3a18ff"/><ellipse cx="12.80" cy="20.87" rx="1.18" ry="1.55" fill="#3028ff"/><ellipse cx="19.74" cy="19.42" rx="2.30" ry="2.90" fill="#b4acff" opacity="0.85"/><ellipse cx="20.07" cy="19.34" rx="1.26" ry="1.66" fill="#3a18ff"/><ellipse cx="20.31" cy="18.65" rx="1.33" ry="1.75" fill="#3a18ff"/><ellipse cx="18.98" cy="19.36" rx="1.27" ry="1.66" fill="#5522ff"/><ellipse cx="19.42" cy="18.48" rx="1.14" ry="1.49" fill="#3028ff"/><ellipse cx="25.92" cy="19.66" rx="2.51" ry="3.18" fill="#b4acff" opacity="0.85"/><ellipse cx="25.66" cy="21.12" rx="1.19" ry="1.56" fill="#3a18ff"/><ellipse cx="26.67" cy="18.66" rx="1.35" ry="1.78" fill="#4814ee"/><ellipse cx="24.81" cy="18.39" rx="1.29" ry="1.70" fill="#5522ff"/><ellipse cx="26.08" cy="19.13" rx="1.48" ry="1.95" fill="#3a18ff"/><ellipse cx="32.21" cy="19.44" rx="2.09" ry="2.61" fill="#b4acff" opacity="0.85"/><ellipse cx="31.94" cy="20.44" rx="0.94" ry="1.22" fill="#3028ff"/><ellipse cx="31.75" cy="18.66" rx="1.17" ry="1.52" fill="#5522ff"/><ellipse cx="32.71" cy="19.14" rx="1.07" ry="1.40" fill="#5522ff"/><ellipse cx="32.04" cy="20.58" rx="1.18" ry="1.54" fill="#3a18ff"/></g></g></g>
<g transform="translate(428.80,328.50)"><g clip-path="url(#tclip)"><rect x="0" y="0" width="39.2" height="38.6" fill="url(#vig)"/><g filter="url(#bl6)"><rect x="0" y="0" width="39.2" height="1.2" fill="#383838"/><rect x="0" y="1.2" width="39.2" height="2.35" fill="#1c1c1c"/><rect x="0" y="3.55" width="39.2" height="2.95" fill="#444444"/><rect x="1.5" y="6.50" width="36" height="1.2" fill="#1e1e1e"/><rect x="2" y="8.20" width="35" height="15.00" fill="#4a4a4a" opacity="0.7"/><ellipse cx="5.8" cy="3.35" rx="1.3" ry="3.0" fill="#707070"/><ellipse cx="31.0" cy="2.55" rx="1.3" ry="2.8" fill="#707070"/></g><rect x="0" y="0" width="39.2" height="38.6" fill="url(#edges)"/><ellipse cx="4.6" cy="27.4" rx="8.5" ry="10.5" fill="url(#glow)"/><ellipse cx="33.8" cy="27.2" rx="8.5" ry="10.5" fill="url(#glow)"/><ellipse cx="4.6" cy="27.6" rx="2.6" ry="3.4" fill="#ffffff" opacity="0.6" filter="url(#blg)"/><ellipse cx="33.8" cy="27.4" rx="2.6" ry="3.4" fill="#ffffff" opacity="0.6" filter="url(#blg)"/><g stroke="#808080" stroke-width="0.8" filter="url(#bl3)"><line x1="7.00" y1="22.70" x2="7.60" y2="37.2"/><line x1="13.50" y1="22.70" x2="14.10" y2="37.2"/><line x1="19.80" y1="22.70" x2="19.80" y2="37.2"/><line x1="26.00" y1="22.70" x2="25.40" y2="37.2"/><line x1="32.40" y1="22.70" x2="31.80" y2="37.2"/></g><g filter="url(#bl)"><path d="M5.80,7.70 L8.20,7.70 L9.00,11.90 L5.00,11.90 Z" fill="#7c7c7c"/><path d="M4.70,12.50 C4.70,11.20 9.30,11.20 9.30,12.50 L9.90,20.70 C10.00,23.90 4.00,23.90 4.10,20.70 Z" fill="url(#mbody)"/><path d="M12.30,7.70 L14.70,7.70 L15.50,11.90 L11.50,11.90 Z" fill="#7c7c7c"/><path d="M11.20,12.50 C11.20,11.20 15.80,11.20 15.80,12.50 L16.40,20.70 C16.50,23.90 10.50,23.90 10.60,20.70 Z" fill="url(#mbody)"/><path d="M18.60,7.70 L21.00,7.70 L21.80,11.90 L17.80,11.90 Z" fill="#7c7c7c"/><path d="M17.50,12.50 C17.50,11.20 22.10,11.20 22.10,12.50 L22.70,20.70 C22.80,23.90 16.80,23.90 16.90,20.70 Z" fill="url(#mbody)"/><path d="M24.80,7.70 L27.20,7.70 L28.00,11.90 L24.00,11.90 Z" fill="#7c7c7c"/><path d="M23.70,12.50 C23.70,11.20 28.30,11.20 28.30,12.50 L28.90,20.70 C29.00,23.90 23.00,23.90 23.10,20.70 Z" fill="url(#mbody)"/><path d="M31.20,7.70 L33.60,7.70 L34.40,11.90 L30.40,11.90 Z" fill="#7c7c7c"/><path d="M30.10,12.50 C30.10,11.20 34.70,11.20 34.70,12.50 L35.30,20.70 C35.40,23.90 29.40,23.90 29.50,20.70 Z" fill="url(#mbody)"/></g><g filter="url(#bl3)"><ellipse cx="20.07" cy="19.41" rx="1.32" ry="1.32" fill="#b0a8ff" opacity="0.8"/><ellipse cx="20.07" cy="19.41" rx="0.82" ry="0.82" fill="#4420ff"/><ellipse cx="25.71" cy="20.10" rx="1.46" ry="1.46" fill="#b0a8ff" opacity="0.8"/><ellipse cx="25.71" cy="20.10" rx="0.96" ry="0.96" fill="#4420ff"/><ellipse cx="32.21" cy="19.40" rx="1.32" ry="1.32" fill="#b0a8ff" opacity="0.8"/><ellipse cx="32.21" cy="19.40" rx="0.82" ry="0.82" fill="#4420ff"/></g></g></g>
<g transform="translate(347.00,368.00)"><g clip-path="url(#tclip)"><rect x="0" y="0" width="39.2" height="38.6" fill="url(#vig)"/><g filter="url(#bl6)"><rect x="0" y="0" width="39.2" height="1.2" fill="#383838"/><rect x="0" y="1.2" width="39.2" height="2.75" fill="#1c1c1c"/><rect x="0" y="3.95" width="39.2" height="3.35" fill="#444444"/><rect x="1.5" y="7.30" width="36" height="1.2" fill="#1e1e1e"/><rect x="2" y="9.00" width="35" height="15.00" fill="#4a4a4a" opacity="0.7"/><ellipse cx="5.8" cy="3.75" rx="1.3" ry="3.0" fill="#707070"/><ellipse cx="31.0" cy="2.95" rx="1.3" ry="2.8" fill="#707070"/></g><rect x="0" y="0" width="39.2" height="38.6" fill="url(#edges)"/><ellipse cx="4.6" cy="27.4" rx="8.5" ry="10.5" fill="url(#glow)"/><ellipse cx="33.8" cy="27.2" rx="8.5" ry="10.5" fill="url(#glow)"/><ellipse cx="4.6" cy="27.6" rx="2.6" ry="3.4" fill="#ffffff" opacity="0.6" filter="url(#blg)"/><ellipse cx="33.8" cy="27.4" rx="2.6" ry="3.4" fill="#ffffff" opacity="0.6" filter="url(#blg)"/><g stroke="#808080" stroke-width="0.8" filter="url(#bl3)"><line x1="7.00" y1="23.50" x2="7.60" y2="37.2"/><line x1="13.50" y1="23.50" x2="14.10" y2="37.2"/><line x1="19.80" y1="23.50" x2="19.80" y2="37.2"/><line x1="26.00" y1="23.50" x2="25.40" y2="37.2"/><line x1="32.40" y1="23.50" x2="31.80" y2="37.2"/></g><g filter="url(#bl)"><path d="M5.80,8.50 L8.20,8.50 L9.00,12.70 L5.00,12.70 Z" fill="#7c7c7c"/><path d="M4.70,13.30 C4.70,12.00 9.30,12.00 9.30,13.30 L9.90,21.50 C10.00,24.70 4.00,24.70 4.10,21.50 Z" fill="url(#mbody)"/><path d="M12.30,8.50 L14.70,8.50 L15.50,12.70 L11.50,12.70 Z" fill="#7c7c7c"/><path d="M11.20,13.30 C11.20,12.00 15.80,12.00 15.80,13.30 L16.40,21.50 C16.50,24.70 10.50,24.70 10.60,21.50 Z" fill="url(#mbody)"/><path d="M18.60,8.50 L21.00,8.50 L21.80,12.70 L17.80,12.70 Z" fill="#7c7c7c"/><path d="M17.50,13.30 C17.50,12.00 22.10,12.00 22.10,13.30 L22.70,21.50 C22.80,24.70 16.80,24.70 16.90,21.50 Z" fill="url(#mbody)"/><path d="M24.80,8.50 L27.20,8.50 L28.00,12.70 L24.00,12.70 Z" fill="#7c7c7c"/><path d="M23.70,13.30 C23.70,12.00 28.30,12.00 28.30,13.30 L28.90,21.50 C29.00,24.70 23.00,24.70 23.10,21.50 Z" fill="url(#mbody)"/><path d="M31.20,8.50 L33.60,8.50 L34.40,12.70 L30.40,12.70 Z" fill="#7c7c7c"/><path d="M30.10,13.30 C30.10,12.00 34.70,12.00 34.70,13.30 L35.30,21.50 C35.40,24.70 29.40,24.70 29.50,21.50 Z" fill="url(#mbody)"/></g><g filter="url(#bl3)"><ellipse cx="7.02" cy="20.33" rx="3.07" ry="3.95" fill="#b4acff" opacity="0.85"/><ellipse cx="5.69" cy="20.91" rx="1.39" ry="1.84" fill="#3028ff"/><ellipse cx="5.75" cy="19.87" rx="1.34" ry="1.78" fill="#3a18ff"/><ellipse cx="6.91" cy="22.18" rx="1.88" ry="2.50" fill="#5522ff"/><ellipse cx="5.68" cy="22.21" rx="1.83" ry="2.43" fill="#4814ee"/><ellipse cx="8.36" cy="20.91" rx="1.59" ry="2.12" fill="#3a18ff"/><ellipse cx="6.74" cy="19.39" rx="1.61" ry="2.14" fill="#3028ff"/><ellipse cx="7.65" cy="20.53" rx="0.55" ry="0.5" fill="#10a0f0"/><ellipse cx="7.44" cy="20.75" rx="0.55" ry="0.5" fill="#10a0f0"/><ellipse cx="7.81" cy="19.55" rx="0.55" ry="0.55" fill="#ff9000"/><ellipse cx="7.01" cy="19.95" rx="0.55" ry="0.5" fill="#30d060"/><ellipse cx="13.70" cy="20.80" rx="2.93" ry="3.76" fill="#b4acff" opacity="0.85"/><ellipse cx="13.03" cy="19.31" rx="1.34" ry="1.77" fill="#3028ff"/><ellipse cx="12.68" cy="19.13" rx="1.74" ry="2.30" fill="#3028ff"/><ellipse cx="12.84" cy="21.31" rx="1.47" ry="1.95" fill="#3028ff"/><ellipse cx="13.73" cy="22.09" rx="1.76" ry="2.33" fill="#3028ff"/><ellipse cx="12.54" cy="22.36" rx="1.75" ry="2.33" fill="#4814ee"/><ellipse cx="14.71" cy="19.95" rx="1.48" ry="1.96" fill="#3028ff"/><ellipse cx="14.64" cy="21.93" rx="0.55" ry="0.5" fill="#10a0f0"/><ellipse cx="12.91" cy="19.86" rx="0.55" ry="0.5" fill="#10a0f0"/><ellipse cx="13.07" cy="20.37" rx="0.55" ry="0.55" fill="#ff9000"/><ellipse cx="14.03" cy="21.67" rx="0.55" ry="0.5" fill="#30d060"/><ellipse cx="19.79" cy="20.85" rx="3.00" ry="3.85" fill="#b4acff" opacity="0.85"/><ellipse cx="20.88" cy="22.00" rx="1.41" ry="1.87" fill="#4814ee"/><ellipse cx="20.23" cy="22.38" rx="1.41" ry="1.87" fill="#4814ee"/><ellipse cx="19.44" cy="20.91" rx="1.67" ry="2.21" fill="#3028ff"/><ellipse cx="19.87" cy="20.19" rx="1.65" ry="2.18" fill="#3a18ff"/><ellipse cx="20.54" cy="21.08" rx="1.58" ry="2.10" fill="#3028ff"/><ellipse cx="20.74" cy="21.67" rx="1.73" ry="2.29" fill="#3a18ff"/><ellipse cx="20.27" cy="21.32" rx="0.55" ry="0.5" fill="#10a0f0"/><ellipse cx="18.93" cy="21.13" rx="0.55" ry="0.5" fill="#10a0f0"/><ellipse cx="20.01" cy="20.59" rx="0.55" ry="0.55" fill="#ff9000"/><ellipse cx="19.66" cy="20.88" rx="0.55" ry="0.5" fill="#30d060"/><ellipse cx="25.78" cy="20.84" rx="3.14" ry="4.04" fill="#b4acff" opacity="0.85"/><ellipse cx="25.86" cy="21.80" rx="1.50" ry="2.00" fill="#3a18ff"/><ellipse cx="24.89" cy="21.13" rx="1.60" ry="2.12" fill="#5522ff"/><ellipse cx="27.15" cy="22.62" rx="1.33" ry="1.77" fill="#5522ff"/><ellipse cx="26.53" cy="21.84" rx="1.79" ry="2.37" fill="#3a18ff"/><ellipse cx="26.95" cy="20.23" rx="1.60" ry="2.12" fill="#4814ee"/><ellipse cx="26.22" cy="20.28" rx="1.90" ry="2.52" fill="#4814ee"/><ellipse cx="25.96" cy="19.87" rx="0.55" ry="0.5" fill="#10a0f0"/><ellipse cx="25.16" cy="20.79" rx="0.55" ry="0.5" fill="#10a0f0"/><ellipse cx="24.99" cy="20.24" rx="0.55" ry="0.55" fill="#ff9000"/><ellipse cx="26.26" cy="20.05" rx="0.55" ry="0.5" fill="#30d060"/><ellipse cx="32.17" cy="20.23" rx="3.00" ry="3.85" fill="#b4acff" opacity="0.85"/><ellipse cx="32.22" cy="18.48" rx="1.64" ry="2.18" fill="#5522ff"/><ellipse cx="32.88" cy="21.23" rx="1.67" ry="2.21" fill="#3028ff"/><ellipse cx="31.32" cy="19.68" rx="1.58" ry="2.09" fill="#5522ff"/><ellipse cx="32.72" cy="20.58" rx="1.31" ry="1.74" fill="#4814ee"/><ellipse cx="31.13" cy="21.77" rx="1.42" ry="1.89" fill="#5522ff"/><ellipse cx="31.31" cy="19.50" rx="1.35" ry="1.79" fill="#3a18ff"/><ellipse cx="32.69" cy="19.97" rx="0.55" ry="0.5" fill="#10a0f0"/><ellipse cx="31.66" cy="21.18" rx="0.55" ry="0.5" fill="#10a0f0"/><ellipse cx="32.84" cy="20.77" rx="0.55" ry="0.55" fill="#ff9000"/><ellipse cx="31.41" cy="19.77" rx="0.55" ry="0.5" fill="#30d060"/></g></g></g>
<g transform="translate(388.20,368.00)"><g clip-path="url(#tclip)"><rect x="0" y="0" width="39.2" height="38.6" fill="url(#vig)"/><g filter="url(#bl6)"><rect x="0" y="0" width="39.2" height="1.2" fill="#383838"/><rect x="0" y="1.2" width="39.2" height="2.75" fill="#1c1c1c"/><rect x="0" y="3.95" width="39.2" height="3.35" fill="#444444"/><rect x="1.5" y="7.30" width="36" height="1.2" fill="#1e1e1e"/><rect x="2" y="9.00" width="35" height="15.00" fill="#4a4a4a" opacity="0.7"/><ellipse cx="5.8" cy="3.75" rx="1.3" ry="3.0" fill="#707070"/><ellipse cx="31.0" cy="2.95" rx="1.3" ry="2.8" fill="#707070"/></g><rect x="0" y="0" width="39.2" height="38.6" fill="url(#edges)"/><ellipse cx="4.6" cy="27.4" rx="8.5" ry="10.5" fill="url(#glow)"/><ellipse cx="33.8" cy="27.2" rx="8.5" ry="10.5" fill="url(#glow)"/><ellipse cx="4.6" cy="27.6" rx="2.6" ry="3.4" fill="#ffffff" opacity="0.6" filter="url(#blg)"/><ellipse cx="33.8" cy="27.4" rx="2.6" ry="3.4" fill="#ffffff" opacity="0.6" filter="url(#blg)"/><g stroke="#808080" stroke-width="0.8" filter="url(#bl3)"><line x1="7.00" y1="23.50" x2="7.60" y2="37.2"/><line x1="13.50" y1="23.50" x2="14.10" y2="37.2"/><line x1="19.80" y1="23.50" x2="19.80" y2="37.2"/><line x1="26.00" y1="23.50" x2="25.40" y2="37.2"/><line x1="32.40" y1="23.50" x2="31.80" y2="37.2"/></g><g filter="url(#bl)"><path d="M5.80,8.50 L8.20,8.50 L9.00,12.70 L5.00,12.70 Z" fill="#7c7c7c"/><path d="M4.70,13.30 C4.70,12.00 9.30,12.00 9.30,13.30 L9.90,21.50 C10.00,24.70 4.00,24.70 4.10,21.50 Z" fill="url(#mbody)"/><path d="M12.30,8.50 L14.70,8.50 L15.50,12.70 L11.50,12.70 Z" fill="#7c7c7c"/><path d="M11.20,13.30 C11.20,12.00 15.80,12.00 15.80,13.30 L16.40,21.50 C16.50,24.70 10.50,24.70 10.60,21.50 Z" fill="url(#mbody)"/><path d="M18.60,8.50 L21.00,8.50 L21.80,12.70 L17.80,12.70 Z" fill="#7c7c7c"/><path d="M17.50,13.30 C17.50,12.00 22.10,12.00 22.10,13.30 L22.70,21.50 C22.80,24.70 16.80,24.70 16.90,21.50 Z" fill="url(#mbody)"/><path d="M24.80,8.50 L27.20,8.50 L28.00,12.70 L24.00,12.70 Z" fill="#7c7c7c"/><path d="M23.70,13.30 C23.70,12.00 28.30,12.00 28.30,13.30 L28.90,21.50 C29.00,24.70 23.00,24.70 23.10,21.50 Z" fill="url(#mbody)"/><path d="M31.20,8.50 L33.60,8.50 L34.40,12.70 L30.40,12.70 Z" fill="#7c7c7c"/><path d="M30.10,13.30 C30.10,12.00 34.70,12.00 34.70,13.30 L35.30,21.50 C35.40,24.70 29.40,24.70 29.50,21.50 Z" fill="url(#mbody)"/></g><g filter="url(#bl3)"><ellipse cx="6.71" cy="20.19" rx="2.16" ry="2.71" fill="#b4acff" opacity="0.85"/><ellipse cx="6.51" cy="20.64" rx="0.89" ry="1.16" fill="#3a18ff"/><ellipse cx="6.77" cy="20.71" rx="0.89" ry="1.16" fill="#3a18ff"/><ellipse cx="7.01" cy="19.30" rx="1.05" ry="1.38" fill="#4814ee"/><ellipse cx="6.76" cy="19.47" rx="1.08" ry="1.41" fill="#3a18ff"/><ellipse cx="13.21" cy="20.85" rx="2.51" ry="3.18" fill="#b4acff" opacity="0.85"/><ellipse cx="13.00" cy="19.96" rx="1.16" ry="1.53" fill="#3028ff"/><ellipse cx="13.43" cy="20.10" rx="1.35" ry="1.78" fill="#4814ee"/><ellipse cx="13.40" cy="20.99" rx="1.47" ry="1.94" fill="#5522ff"/><ellipse cx="12.89" cy="19.98" rx="1.41" ry="1.86" fill="#4814ee"/><ellipse cx="19.52" cy="20.69" rx="2.30" ry="2.90" fill="#b4acff" opacity="0.85"/><ellipse cx="20.26" cy="21.09" rx="0.99" ry="1.30" fill="#4814ee"/><ellipse cx="19.98" cy="19.88" rx="1.18" ry="1.55" fill="#5522ff"/><ellipse cx="19.48" cy="20.06" rx="1.03" ry="1.35" fill="#4814ee"/><ellipse cx="19.48" cy="21.09" rx="1.04" ry="1.36" fill="#5522ff"/><ellipse cx="26.29" cy="20.89" rx="2.51" ry="3.18" fill="#b4acff" opacity="0.85"/><ellipse cx="26.93" cy="20.32" rx="1.08" ry="1.43" fill="#3028ff"/><ellipse cx="25.38" cy="19.99" rx="1.45" ry="1.91" fill="#3028ff"/><ellipse cx="26.72" cy="19.70" rx="1.19" ry="1.57" fill="#3028ff"/><ellipse cx="26.62" cy="22.34" rx="1.09" ry="1.44" fill="#4814ee"/><ellipse cx="32.22" cy="20.37" rx="2.16" ry="2.71" fill="#b4acff" opacity="0.85"/><ellipse cx="32.04" cy="19.26" rx="1.13" ry="1.47" fill="#3028ff"/><ellipse cx="31.47" cy="21.55" rx="0.88" ry="1.15" fill="#5522ff"/><ellipse cx="31.66" cy="19.54" rx="1.24" ry="1.62" fill="#5522ff"/><ellipse cx="32.18" cy="20.36" rx="1.16" ry="1.51" fill="#3028ff"/></g></g></g>
<g transform="translate(428.80,368.00)"><g clip-path="url(#tclip)"><rect x="0" y="0" width="39.2" height="38.6" fill="url(#vig)"/><g filter="url(#bl6)"><rect x="0" y="0" width="39.2" height="1.2" fill="#383838"/><rect x="0" y="1.2" width="39.2" height="2.75" fill="#1c1c1c"/><rect x="0" y="3.95" width="39.2" height="3.35" fill="#444444"/><rect x="1.5" y="7.30" width="36" height="1.2" fill="#1e1e1e"/><rect x="2" y="9.00" width="35" height="15.00" fill="#4a4a4a" opacity="0.7"/><ellipse cx="5.8" cy="3.75" rx="1.3" ry="3.0" fill="#707070"/><ellipse cx="31.0" cy="2.95" rx="1.3" ry="2.8" fill="#707070"/></g><rect x="0" y="0" width="39.2" height="38.6" fill="url(#edges)"/><ellipse cx="4.6" cy="27.4" rx="8.5" ry="10.5" fill="url(#glow)"/><ellipse cx="33.8" cy="27.2" rx="8.5" ry="10.5" fill="url(#glow)"/><ellipse cx="4.6" cy="27.6" rx="2.6" ry="3.4" fill="#ffffff" opacity="0.6" filter="url(#blg)"/><ellipse cx="33.8" cy="27.4" rx="2.6" ry="3.4" fill="#ffffff" opacity="0.6" filter="url(#blg)"/><g stroke="#808080" stroke-width="0.8" filter="url(#bl3)"><line x1="7.00" y1="23.50" x2="7.60" y2="37.2"/><line x1="13.50" y1="23.50" x2="14.10" y2="37.2"/><line x1="19.80" y1="23.50" x2="19.80" y2="37.2"/><line x1="26.00" y1="23.50" x2="25.40" y2="37.2"/><line x1="32.40" y1="23.50" x2="31.80" y2="37.2"/></g><g filter="url(#bl)"><path d="M5.80,8.50 L8.20,8.50 L9.00,12.70 L5.00,12.70 Z" fill="#7c7c7c"/><path d="M4.70,13.30 C4.70,12.00 9.30,12.00 9.30,13.30 L9.90,21.50 C10.00,24.70 4.00,24.70 4.10,21.50 Z" fill="url(#mbody)"/><path d="M12.30,8.50 L14.70,8.50 L15.50,12.70 L11.50,12.70 Z" fill="#7c7c7c"/><path d="M11.20,13.30 C11.20,12.00 15.80,12.00 15.80,13.30 L16.40,21.50 C16.50,24.70 10.50,24.70 10.60,21.50 Z" fill="url(#mbody)"/><path d="M18.60,8.50 L21.00,8.50 L21.80,12.70 L17.80,12.70 Z" fill="#7c7c7c"/><path d="M17.50,13.30 C17.50,12.00 22.10,12.00 22.10,13.30 L22.70,21.50 C22.80,24.70 16.80,24.70 16.90,21.50 Z" fill="url(#mbody)"/><path d="M24.80,8.50 L27.20,8.50 L28.00,12.70 L24.00,12.70 Z" fill="#7c7c7c"/><path d="M23.70,13.30 C23.70,12.00 28.30,12.00 28.30,13.30 L28.90,21.50 C29.00,24.70 23.00,24.70 23.10,21.50 Z" fill="url(#mbody)"/><path d="M31.20,8.50 L33.60,8.50 L34.40,12.70 L30.40,12.70 Z" fill="#7c7c7c"/><path d="M30.10,13.30 C30.10,12.00 34.70,12.00 34.70,13.30 L35.30,21.50 C35.40,24.70 29.40,24.70 29.50,21.50 Z" fill="url(#mbody)"/></g><g filter="url(#bl3)"><ellipse cx="19.55" cy="20.27" rx="1.32" ry="1.32" fill="#b0a8ff" opacity="0.8"/><ellipse cx="19.55" cy="20.27" rx="0.82" ry="0.82" fill="#4420ff"/><ellipse cx="25.88" cy="20.82" rx="1.55" ry="1.55" fill="#b0a8ff" opacity="0.8"/><ellipse cx="25.88" cy="20.82" rx="1.05" ry="1.05" fill="#4420ff"/></g></g></g>
<text x="343.80" y="273.10" font-size="8.4" text-anchor="end" textLength="9.90" lengthAdjust="spacingAndGlyphs">D3</text>
<text x="343.80" y="312.80" font-size="8.4" text-anchor="end" textLength="9.80" lengthAdjust="spacingAndGlyphs">D7</text>
<text x="343.80" y="351.90" font-size="8.4" text-anchor="end" textLength="13.50" lengthAdjust="spacingAndGlyphs">D14</text>
<text x="343.80" y="390.50" font-size="8.4" text-anchor="end" textLength="13.30" lengthAdjust="spacingAndGlyphs">D21</text>
<text x="304.30" y="285.50" font-size="7.8" textLength="35.70" lengthAdjust="spacingAndGlyphs">CAR T cells</text>
<line x1="303.70" y1="288.80" x2="340.00" y2="288.80" stroke="#231f20" stroke-width="1.0"/>
<path d="M339.20,286.40 L344.20,288.80 L339.20,291.20 Z" fill="#231f20"/>
<text x="315.60" y="297.40" font-size="7.8" textLength="13.30" lengthAdjust="spacingAndGlyphs">(D4)</text>
<defs><linearGradient id="cbar" x1="0" y1="0" x2="0" y2="1">
 <stop offset="0" stop-color="#ff0000"/>
 <stop offset="0.11" stop-color="#ff7a00"/>
 <stop offset="0.23" stop-color="#ffff00"/>
 <stop offset="0.40" stop-color="#00ff00"/>
 <stop offset="0.62" stop-color="#00ffff"/>
 <stop offset="0.79" stop-color="#0060ff"/>
 <stop offset="0.88" stop-color="#0000ff"/>
 <stop offset="1" stop-color="#7000ff"/>
</linearGradient></defs>
<rect x="480.00" y="254.60" width="4.00" height="126.00" fill="url(#cbar)"/>
<line x1="484.00" y1="256.00" x2="485.20" y2="256.00" stroke="#888" stroke-width="0.5"/>
<line x1="484.00" y1="261.80" x2="485.20" y2="261.80" stroke="#888" stroke-width="0.5"/>
<line x1="484.00" y1="267.60" x2="485.20" y2="267.60" stroke="#888" stroke-width="0.5"/>
<line x1="484.00" y1="273.40" x2="485.20" y2="273.40" stroke="#888" stroke-width="0.5"/>
<line x1="484.00" y1="279.20" x2="485.20" y2="279.20" stroke="#888" stroke-width="0.5"/>
<line x1="484.00" y1="285.00" x2="485.20" y2="285.00" stroke="#888" stroke-width="0.5"/>
<line x1="484.00" y1="290.80" x2="485.20" y2="290.80" stroke="#888" stroke-width="0.5"/>
<line x1="484.00" y1="296.60" x2="485.20" y2="296.60" stroke="#888" stroke-width="0.5"/>
<line x1="484.00" y1="302.40" x2="485.20" y2="302.40" stroke="#888" stroke-width="0.5"/>
<line x1="484.00" y1="308.20" x2="485.20" y2="308.20" stroke="#888" stroke-width="0.5"/>
<line x1="484.00" y1="314.00" x2="485.20" y2="314.00" stroke="#888" stroke-width="0.5"/>
<line x1="484.00" y1="319.80" x2="485.20" y2="319.80" stroke="#888" stroke-width="0.5"/>
<line x1="484.00" y1="325.60" x2="485.20" y2="325.60" stroke="#888" stroke-width="0.5"/>
<line x1="484.00" y1="331.40" x2="485.20" y2="331.40" stroke="#888" stroke-width="0.5"/>
<line x1="484.00" y1="337.20" x2="485.20" y2="337.20" stroke="#888" stroke-width="0.5"/>
<line x1="484.00" y1="343.00" x2="485.20" y2="343.00" stroke="#888" stroke-width="0.5"/>
<line x1="484.00" y1="348.80" x2="485.20" y2="348.80" stroke="#888" stroke-width="0.5"/>
<line x1="484.00" y1="354.60" x2="485.20" y2="354.60" stroke="#888" stroke-width="0.5"/>
<line x1="484.00" y1="360.40" x2="485.20" y2="360.40" stroke="#888" stroke-width="0.5"/>
<line x1="484.00" y1="366.20" x2="485.20" y2="366.20" stroke="#888" stroke-width="0.5"/>
<line x1="484.00" y1="372.00" x2="485.20" y2="372.00" stroke="#888" stroke-width="0.5"/>
<line x1="484.00" y1="377.80" x2="485.20" y2="377.80" stroke="#888" stroke-width="0.5"/>
<line x1="484.00" y1="269.00" x2="486.00" y2="269.00" stroke="#555" stroke-width="0.6"/>
<text x="487.80" y="271.70" font-size="7.6" textLength="8.50" lengthAdjust="spacingAndGlyphs">4.0</text>
<line x1="484.00" y1="298.00" x2="486.00" y2="298.00" stroke="#555" stroke-width="0.6"/>
<text x="487.80" y="300.70" font-size="7.6" textLength="8.50" lengthAdjust="spacingAndGlyphs">3.0</text>
<line x1="484.00" y1="327.00" x2="486.00" y2="327.00" stroke="#555" stroke-width="0.6"/>
<text x="487.80" y="329.70" font-size="7.6" textLength="8.50" lengthAdjust="spacingAndGlyphs">2.0</text>
<line x1="484.00" y1="356.00" x2="486.00" y2="356.00" stroke="#555" stroke-width="0.6"/>
<text x="487.80" y="358.70" font-size="7.6" textLength="8.50" lengthAdjust="spacingAndGlyphs">1.0</text>
<text x="474.50" y="251.60" font-size="6.8" textLength="38.40" lengthAdjust="spacingAndGlyphs">Luminescence</text>
<text x="495.20" y="318.40" font-size="7.0" textLength="10.00" lengthAdjust="spacingAndGlyphs">×10</text>
<text x="505.40" y="314.80" font-size="4.4">6</text>
<text x="471.90" y="388.50" font-size="7.2" textLength="24.60" lengthAdjust="spacingAndGlyphs">Radiance</text>
<text x="471.90" y="395.40" font-size="7.2" textLength="27.00" lengthAdjust="spacingAndGlyphs">(p/sec/cm</text>
<text x="499.00" y="392.60" font-size="4.6">2</text>
<text x="501.60" y="395.40" font-size="7.2" textLength="8.60" lengthAdjust="spacingAndGlyphs">/sr)</text>
<rect x="470.30" y="398.40" width="42.80" height="22.50" fill="#c5d4e1"/>
<text x="472.90" y="405.60" font-size="6.8" textLength="30.20" lengthAdjust="spacingAndGlyphs">Color scale</text>
<text x="472.90" y="412.00" font-size="6.8" textLength="38.00" lengthAdjust="spacingAndGlyphs">Min = 1.20e5</text>
<text x="472.90" y="418.50" font-size="6.8" textLength="38.40" lengthAdjust="spacingAndGlyphs">Max = 4.50e6</text>
<rect x="0.00" y="0.00" width="520.00" height="1.00" fill="#000"/>
<rect x="0.00" y="0.00" width="1.00" height="441.00" fill="#000"/>
<rect x="518.70" y="0.00" width="1.30" height="441.00" fill="#000"/>
<rect x="0.00" y="439.70" width="520.00" height="1.30" fill="#000"/>
</svg></body></html>
